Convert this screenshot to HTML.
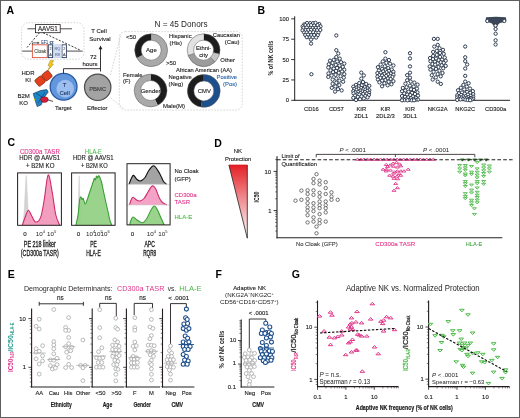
<!DOCTYPE html>
<html><head><meta charset="utf-8"><style>
html,body{margin:0;padding:0;background:#fff;}
body{width:520px;height:418px;overflow:hidden;font-family:"Liberation Sans",sans-serif;}
svg{display:block;}
</style></head><body>
<svg width="520" height="418" viewBox="0 0 520 418" font-family="'Liberation Sans', sans-serif">
<rect x="0" y="0" width="520" height="418" fill="#fff"/>
<defs><filter id="soft" filterUnits="userSpaceOnUse" x="0" y="0" width="520" height="418"><feGaussianBlur stdDeviation="0.3"/></filter></defs>
<g filter="url(#soft)">
<text x="6.50" y="13.90" font-size="10.5" fill="#000" font-weight="bold">A</text>
<rect x="21.5" y="22.7" width="62.5" height="36.5" rx="7" fill="none" stroke="#cacaca" stroke-width="0.8" stroke-dasharray="1.6,1.4"/>
<line x1="27.50" y1="28.80" x2="72.00" y2="28.80" stroke="#231f20" stroke-width="0.8"/>
<rect x="35.6" y="24.6" width="24.6" height="8.1" fill="#fff" stroke="#231f20" stroke-width="0.8"/>
<text x="47.90" y="31.07" font-size="6.3" fill="#231f20" stroke="#231f20" stroke-width="0.12" text-anchor="middle" textLength="20" lengthAdjust="spacingAndGlyphs">AAVS1</text>
<line x1="39.50" y1="32.70" x2="27.00" y2="47.50" stroke="#231f20" stroke-width="0.9" stroke-dasharray="2,1.5"/>
<line x1="43.00" y1="32.70" x2="81.00" y2="50.50" stroke="#231f20" stroke-width="0.9" stroke-dasharray="2,1.5"/>
<line x1="22.20" y1="51.10" x2="82.70" y2="51.10" stroke="#231f20" stroke-width="0.8"/>
<rect x="32.4" y="44.8" width="14.9" height="12.8" fill="#fff" stroke="#e2553f" stroke-width="0.9"/>
<text x="40.20" y="53.13" font-size="4.8" fill="#4d5a4d" stroke="#4d5a4d" stroke-width="0.12" text-anchor="middle" textLength="12" lengthAdjust="spacingAndGlyphs">Cloak</text>
<rect x="48.3" y="44.8" width="4.30" height="12.8" fill="#fff" stroke="#2f3f5f" stroke-width="0.9"/>
<text x="50.45" y="49.77" font-size="3.8" fill="#555" stroke="#555" stroke-width="0.12" text-anchor="middle">2</text>
<text x="50.45" y="55.67" font-size="3.8" fill="#555" stroke="#555" stroke-width="0.12" text-anchor="middle">A</text>
<rect x="62.0" y="44.8" width="4.40" height="12.8" fill="#fff" stroke="#2f3f5f" stroke-width="0.9"/>
<text x="64.20" y="49.77" font-size="3.8" fill="#555" stroke="#555" stroke-width="0.12" text-anchor="middle">2</text>
<text x="64.20" y="55.67" font-size="3.8" fill="#555" stroke="#555" stroke-width="0.12" text-anchor="middle">A</text>
<rect x="53.3" y="44.8" width="8.1" height="12.8" fill="#d5e0f2" stroke="#b9c8e4" stroke-width="0.6"/>
<text x="57.35" y="49.97" font-size="3.8" fill="#6a7fa8" stroke="#6a7fa8" stroke-width="0.12" text-anchor="middle">RQ</text>
<text x="57.35" y="55.67" font-size="3.8" fill="#6a7fa8" stroke="#6a7fa8" stroke-width="0.12" text-anchor="middle">R8</text>
<path d="M32.4,44.8 V42.9 H38" fill="none" stroke="#231f20" stroke-width="0.7"/>
<path d="M37.6,41.7 L39.6,42.9 L37.6,44.1 Z" fill="#231f20"/>
<text x="41.20" y="43.70" font-size="6.2" fill="#2d4e7a" stroke="#2d4e7a" stroke-width="0.12" textLength="7.0" lengthAdjust="spacingAndGlyphs">EF1</text>
<text x="49.60" y="43.80" font-size="5.4" fill="#2d4e7a" stroke="#2d4e7a" stroke-width="0.12" textLength="4.2" lengthAdjust="spacingAndGlyphs">α</text>
<path d="M50.2,60.6 L53.8,60.6 L51.6,64.2 L53.4,64.2 L48.0,70.4 L49.8,65.6 L48.0,65.6 Z" fill="#f6c91a" stroke="#8a6d00" stroke-width="0.4"/>
<text x="28.00" y="74.76" font-size="6.0" fill="#222" stroke="#222" stroke-width="0.12" text-anchor="middle">HDR</text>
<text x="28.00" y="82.16" font-size="6.0" fill="#222" stroke="#222" stroke-width="0.12" text-anchor="middle">KI</text>
<text x="23.70" y="97.76" font-size="6.0" fill="#222" stroke="#222" stroke-width="0.12" text-anchor="middle">B2M</text>
<text x="23.70" y="104.66" font-size="6.0" fill="#222" stroke="#222" stroke-width="0.12" text-anchor="middle">KO</text>
<g transform="translate(43.5,78.4) rotate(-38)"><rect x="-8.6" y="-4.0" width="8.4" height="8.0" rx="1.6" fill="#e5401e" stroke="#6b1808" stroke-width="0.6"/><rect x="0.2" y="-4.0" width="8.4" height="8.0" rx="1.6" fill="#e5401e" stroke="#6b1808" stroke-width="0.6"/></g>
<path d="M33.2,93.6 L40.5,90.6 L46.8,89.6 L48.2,92.0 L44.5,97.0 L41.2,104.8 L37.2,106.6 L35.4,101.2 Z" fill="#1f86c8" stroke="#0f2a4a" stroke-width="0.6"/>
<path d="M36,93.2 L44,98.4 M38,103 L45,92" stroke="#0f2a4a" stroke-width="0.5"/>
<ellipse cx="44.4" cy="99.6" rx="3.8" ry="2.8" fill="#d61f3a" stroke="#5a0a14" stroke-width="0.5"/>
<line x1="47.60" y1="99.80" x2="53.00" y2="101.40" stroke="#3a1a1a" stroke-width="0.8"/>
<circle cx="34.60" cy="99.60" r="0.90" fill="#d8d820" stroke="none" stroke-width="0.8"/>
<circle cx="63.60" cy="86.80" r="13.40" fill="#6397dd" stroke="#2a5a9e" stroke-width="1.3"/>
<circle cx="65.20" cy="88.60" r="8.80" fill="#9cbff0" stroke="none" stroke-width="0.8"/>
<text x="64.60" y="87.36" font-size="6.0" fill="#1e3a66" stroke="#1e3a66" stroke-width="0.12" text-anchor="middle">T</text>
<text x="64.60" y="94.76" font-size="6.0" fill="#1e3a66" stroke="#1e3a66" stroke-width="0.12" text-anchor="middle">Cell</text>
<text x="63.40" y="109.96" font-size="6.0" fill="#222" stroke="#222" stroke-width="0.12" text-anchor="middle">Target</text>
<path d="M63.5,73.4 V68.7 H100.5" fill="none" stroke="#231f20" stroke-width="0.9"/>
<line x1="100.50" y1="71.50" x2="100.50" y2="48.50" stroke="#231f20" stroke-width="0.9"/>
<path d="M98.6,49.2 L100.5,45.6 L102.4,49.2 Z" fill="#231f20"/>
<text x="93.30" y="59.16" font-size="6.0" fill="#222" stroke="#222" stroke-width="0.12" text-anchor="middle">72</text>
<text x="90.00" y="66.46" font-size="6.0" fill="#222" stroke="#222" stroke-width="0.12" text-anchor="middle">hours</text>
<text x="99.00" y="32.96" font-size="6.0" fill="#222" stroke="#222" stroke-width="0.12" text-anchor="middle">T Cell</text>
<text x="100.00" y="41.26" font-size="6.0" fill="#222" stroke="#222" stroke-width="0.12" text-anchor="middle">Survival</text>
<circle cx="97.70" cy="87.30" r="13.20" fill="#a3a3a3" stroke="#4d4d4d" stroke-width="1.2"/>
<text x="97.70" y="91.32" font-size="5.9" fill="#3c3c3c" stroke="#3c3c3c" stroke-width="0.12" text-anchor="middle">PBMC</text>
<text x="97.20" y="110.06" font-size="6.0" fill="#222" stroke="#222" stroke-width="0.12" text-anchor="middle">Effector</text>
<line x1="110.50" y1="75.00" x2="120.50" y2="36.00" stroke="#cacaca" stroke-width="0.8" stroke-dasharray="1.6,1.4"/>
<line x1="110.50" y1="98.00" x2="124.00" y2="108.60" stroke="#cacaca" stroke-width="0.8" stroke-dasharray="1.6,1.4"/>
<rect x="119.3" y="31.6" width="122.9" height="78.4" rx="6" fill="none" stroke="#cacaca" stroke-width="0.8" stroke-dasharray="1.6,1.4"/>
<text x="181.00" y="26.95" font-size="8.2" fill="#231f20" text-anchor="middle">N = 45 Donors</text>
<path d="M151.20,37.00 A13.2,13.2 0 1 1 139.55,56.40" fill="none" stroke="#a9a9a9" stroke-width="6.40"/>
<path d="M139.55,56.40 A13.2,13.2 0 0 1 151.20,37.00" fill="none" stroke="#1e1e1e" stroke-width="6.40"/>
<circle cx="151.20" cy="50.20" r="16.40" fill="none" stroke="#555" stroke-width="0.5"/>
<circle cx="151.20" cy="50.20" r="10.00" fill="none" stroke="#555" stroke-width="0.5"/>
<text x="151.40" y="52.36" font-size="6.0" fill="#222" stroke="#222" stroke-width="0.12" text-anchor="middle">Age</text>
<text x="131.00" y="38.86" font-size="6.0" fill="#222" stroke="#222" stroke-width="0.12" text-anchor="middle">&lt;50</text>
<text x="171.00" y="64.86" font-size="6.0" fill="#222" stroke="#222" stroke-width="0.12" text-anchor="middle">&gt;50</text>
<path d="M203.60,37.00 A13.2,13.2 0 0 1 216.46,53.17" fill="none" stroke="#1e1e1e" stroke-width="6.40"/>
<path d="M216.46,53.17 A13.2,13.2 0 0 1 212.77,59.70" fill="none" stroke="#c6c6c6" stroke-width="6.40"/>
<path d="M212.77,59.70 A13.2,13.2 0 0 1 191.12,54.50" fill="none" stroke="#9c9c9c" stroke-width="6.40"/>
<path d="M191.12,54.50 A13.2,13.2 0 0 1 203.60,37.00" fill="none" stroke="#e2e2e2" stroke-width="6.40"/>
<line x1="213.34" y1="52.45" x2="219.58" y2="53.89" stroke="#444" stroke-width="0.5"/>
<line x1="210.55" y1="57.39" x2="214.99" y2="62.00" stroke="#444" stroke-width="0.5"/>
<line x1="194.14" y1="53.46" x2="188.09" y2="55.54" stroke="#444" stroke-width="0.5"/>
<circle cx="203.60" cy="50.20" r="16.40" fill="none" stroke="#555" stroke-width="0.5"/>
<circle cx="203.60" cy="50.20" r="10.00" fill="none" stroke="#555" stroke-width="0.5"/>
<text x="203.60" y="50.22" font-size="5.9" fill="#222" stroke="#222" stroke-width="0.12" text-anchor="middle">Ethni-</text>
<text x="203.60" y="57.22" font-size="5.9" fill="#222" stroke="#222" stroke-width="0.12" text-anchor="middle">city</text>
<text x="169.00" y="38.00" font-size="5.9" fill="#222" stroke="#222" stroke-width="0.12">Hispanic</text>
<text x="169.60" y="45.10" font-size="5.9" fill="#222" stroke="#222" stroke-width="0.12">(His)</text>
<text x="212.80" y="36.80" font-size="5.9" fill="#222" stroke="#222" stroke-width="0.12" textLength="27.2" lengthAdjust="spacingAndGlyphs">Caucasian</text>
<text x="224.70" y="43.90" font-size="5.9" fill="#222" stroke="#222" stroke-width="0.12">(Cau)</text>
<text x="220.30" y="61.60" font-size="5.9" fill="#222" stroke="#222" stroke-width="0.12">Other</text>
<text x="176.00" y="72.40" font-size="5.9" fill="#222" stroke="#222" stroke-width="0.12" textLength="56" lengthAdjust="spacingAndGlyphs">African American (AA)</text>
<path d="M150.60,77.30 A13.2,13.2 0 0 1 156.39,102.36" fill="none" stroke="#1e1e1e" stroke-width="6.40"/>
<path d="M156.39,102.36 A13.2,13.2 0 1 1 150.60,77.30" fill="none" stroke="#a9a9a9" stroke-width="6.40"/>
<circle cx="150.60" cy="90.50" r="16.40" fill="none" stroke="#555" stroke-width="0.5"/>
<circle cx="150.60" cy="90.50" r="10.00" fill="none" stroke="#555" stroke-width="0.5"/>
<text x="150.60" y="92.92" font-size="5.9" fill="#222" stroke="#222" stroke-width="0.12" text-anchor="middle">Gender</text>
<text x="123.00" y="76.50" font-size="5.9" fill="#222" stroke="#222" stroke-width="0.12">Female</text>
<text x="123.00" y="83.40" font-size="5.9" fill="#222" stroke="#222" stroke-width="0.12">(F)</text>
<text x="163.00" y="107.90" font-size="5.9" fill="#222" stroke="#222" stroke-width="0.12" textLength="22" lengthAdjust="spacingAndGlyphs">Male(M)</text>
<path d="M203.80,77.70 A13.2,13.2 0 1 1 201.51,103.90" fill="none" stroke="#1d4f8c" stroke-width="6.40"/>
<path d="M201.51,103.90 A13.2,13.2 0 0 1 203.80,77.70" fill="none" stroke="#1e1e1e" stroke-width="6.40"/>
<circle cx="203.80" cy="90.90" r="16.40" fill="none" stroke="#555" stroke-width="0.5"/>
<circle cx="203.80" cy="90.90" r="10.00" fill="none" stroke="#555" stroke-width="0.5"/>
<text x="204.40" y="92.72" font-size="5.9" fill="#222" stroke="#222" stroke-width="0.12" text-anchor="middle">CMV</text>
<text x="168.60" y="79.30" font-size="5.9" fill="#222" stroke="#222" stroke-width="0.12">Negative</text>
<text x="168.60" y="85.70" font-size="5.9" fill="#222" stroke="#222" stroke-width="0.12">(Neg)</text>
<text x="216.50" y="79.30" font-size="5.9" fill="#2e67a8" stroke="#2e67a8" stroke-width="0.12">Positive</text>
<text x="223.00" y="85.70" font-size="5.9" fill="#2e67a8" stroke="#2e67a8" stroke-width="0.12">(Pos)</text>
<text x="257.40" y="13.80" font-size="10.5" fill="#000" font-weight="bold">B</text>
<line x1="294.70" y1="16.30" x2="294.70" y2="100.80" stroke="#231f20" stroke-width="1.0"/>
<line x1="294.20" y1="100.30" x2="510.00" y2="100.30" stroke="#231f20" stroke-width="1.0"/>
<line x1="291.20" y1="100.30" x2="294.70" y2="100.30" stroke="#231f20" stroke-width="0.9"/>
<text x="289.00" y="102.35" font-size="5.8" fill="#222" stroke="#222" stroke-width="0.12" text-anchor="end">0</text>
<line x1="291.20" y1="79.94" x2="294.70" y2="79.94" stroke="#231f20" stroke-width="0.9"/>
<text x="289.00" y="81.99" font-size="5.8" fill="#222" stroke="#222" stroke-width="0.12" text-anchor="end">25</text>
<line x1="291.20" y1="59.57" x2="294.70" y2="59.57" stroke="#231f20" stroke-width="0.9"/>
<text x="289.00" y="61.62" font-size="5.8" fill="#222" stroke="#222" stroke-width="0.12" text-anchor="end">50</text>
<line x1="291.20" y1="39.21" x2="294.70" y2="39.21" stroke="#231f20" stroke-width="0.9"/>
<text x="289.00" y="41.26" font-size="5.8" fill="#222" stroke="#222" stroke-width="0.12" text-anchor="end">75</text>
<line x1="291.20" y1="18.85" x2="294.70" y2="18.85" stroke="#231f20" stroke-width="0.9"/>
<text x="289.00" y="20.90" font-size="5.8" fill="#222" stroke="#222" stroke-width="0.12" text-anchor="end">100</text>
<text transform="translate(273.0,58.2) rotate(-90)" font-size="8" font-weight="bold" fill="#231f20" text-anchor="middle" textLength="34.8" lengthAdjust="spacingAndGlyphs">% of NK cells</text>
<text x="311.40" y="110.99" font-size="5.8" fill="#222" stroke="#222" stroke-width="0.12" text-anchor="middle">CD16</text>
<text x="336.30" y="110.99" font-size="5.8" fill="#222" stroke="#222" stroke-width="0.12" text-anchor="middle">CD57</text>
<text x="361.30" y="110.99" font-size="5.8" fill="#222" stroke="#222" stroke-width="0.12" text-anchor="middle">KIR</text>
<text x="361.30" y="118.39" font-size="5.8" fill="#222" stroke="#222" stroke-width="0.12" text-anchor="middle">2DL1</text>
<text x="385.40" y="110.99" font-size="5.8" fill="#222" stroke="#222" stroke-width="0.12" text-anchor="middle">KIR</text>
<text x="385.40" y="118.39" font-size="5.8" fill="#222" stroke="#222" stroke-width="0.12" text-anchor="middle">2DL2/3</text>
<text x="410.00" y="110.99" font-size="5.8" fill="#222" stroke="#222" stroke-width="0.12" text-anchor="middle">KIR</text>
<text x="410.00" y="118.39" font-size="5.8" fill="#222" stroke="#222" stroke-width="0.12" text-anchor="middle">3DL1</text>
<text x="437.70" y="110.99" font-size="5.8" fill="#222" stroke="#222" stroke-width="0.12" text-anchor="middle">NKG2A</text>
<text x="465.20" y="110.99" font-size="5.8" fill="#222" stroke="#222" stroke-width="0.12" text-anchor="middle">NKG2C</text>
<text x="495.60" y="110.99" font-size="5.8" fill="#222" stroke="#222" stroke-width="0.12" text-anchor="middle">CD300a</text>
<path d="M486.2,17.2 Q496,16.2 505.8,17.2 Q507.2,19.5 505.2,21.8 Q502,22.8 499.5,23.2 Q497.5,24.5 496.8,27.2 L494.2,27.2 Q493.4,24.5 491.5,23.2 Q489,22.8 486.8,21.8 Q484.8,19.5 486.2,17.2 Z" fill="#3a4658"/>
<g fill="#fff" stroke="#2e3c50" stroke-width="1.0"><circle cx="307.00" cy="23.05" r="1.65"/><circle cx="310.14" cy="23.17" r="1.65"/><circle cx="313.09" cy="23.15" r="1.65"/><circle cx="315.52" cy="22.88" r="1.65"/><circle cx="304.25" cy="24.39" r="1.65"/><circle cx="319.22" cy="24.07" r="1.65"/><circle cx="305.38" cy="25.15" r="1.65"/><circle cx="308.44" cy="25.34" r="1.65"/><circle cx="311.01" cy="25.13" r="1.65"/><circle cx="314.22" cy="25.55" r="1.65"/><circle cx="317.61" cy="25.10" r="1.65"/><circle cx="302.64" cy="26.38" r="1.65"/><circle cx="320.49" cy="26.38" r="1.65"/><circle cx="303.50" cy="27.92" r="1.65"/><circle cx="306.67" cy="27.53" r="1.65"/><circle cx="310.29" cy="27.92" r="1.65"/><circle cx="312.73" cy="27.98" r="1.65"/><circle cx="315.93" cy="27.81" r="1.65"/><circle cx="318.66" cy="27.96" r="1.65"/><circle cx="302.55" cy="30.38" r="1.65"/><circle cx="305.71" cy="29.98" r="1.65"/><circle cx="308.29" cy="29.90" r="1.65"/><circle cx="311.12" cy="29.84" r="1.65"/><circle cx="314.24" cy="30.16" r="1.65"/><circle cx="317.00" cy="30.21" r="1.65"/><circle cx="320.27" cy="29.99" r="1.65"/><circle cx="304.15" cy="32.49" r="1.65"/><circle cx="306.75" cy="32.49" r="1.65"/><circle cx="310.06" cy="32.23" r="1.65"/><circle cx="313.28" cy="32.21" r="1.65"/><circle cx="316.10" cy="32.71" r="1.65"/><circle cx="318.51" cy="32.67" r="1.65"/><circle cx="305.29" cy="34.95" r="1.65"/><circle cx="308.01" cy="34.63" r="1.65"/><circle cx="311.14" cy="35.17" r="1.65"/><circle cx="314.16" cy="35.05" r="1.65"/><circle cx="317.74" cy="35.17" r="1.65"/><circle cx="306.78" cy="37.21" r="1.65"/><circle cx="309.92" cy="37.47" r="1.65"/><circle cx="312.59" cy="37.45" r="1.65"/><circle cx="316.14" cy="37.52" r="1.65"/><circle cx="311.03" cy="39.57" r="1.65"/><circle cx="311.07" cy="43.60" r="1.65"/><circle cx="311.40" cy="74.24" r="1.65"/><circle cx="336.30" cy="35.47" r="1.65"/><circle cx="336.30" cy="50.21" r="1.65"/><circle cx="338.26" cy="53.47" r="1.65"/><circle cx="336.30" cy="57.09" r="1.65"/><circle cx="339.77" cy="58.64" r="1.65"/><circle cx="333.72" cy="59.89" r="1.65"/><circle cx="330.00" cy="60.66" r="1.65"/><circle cx="337.19" cy="61.44" r="1.65"/><circle cx="341.08" cy="62.21" r="1.65"/><circle cx="332.55" cy="62.96" r="1.65"/><circle cx="344.30" cy="63.61" r="1.65"/><circle cx="328.77" cy="64.26" r="1.65"/><circle cx="335.80" cy="64.90" r="1.65"/><circle cx="339.55" cy="65.55" r="1.65"/><circle cx="331.55" cy="66.19" r="1.65"/><circle cx="342.80" cy="66.84" r="1.65"/><circle cx="328.30" cy="67.43" r="1.65"/><circle cx="337.05" cy="68.01" r="1.65"/><circle cx="333.80" cy="68.59" r="1.65"/><circle cx="340.30" cy="69.17" r="1.65"/><circle cx="344.30" cy="69.76" r="1.65"/><circle cx="330.55" cy="70.34" r="1.65"/><circle cx="336.05" cy="70.92" r="1.65"/><circle cx="342.05" cy="71.50" r="1.65"/><circle cx="333.05" cy="72.13" r="1.65"/><circle cx="338.80" cy="72.81" r="1.65"/><circle cx="328.43" cy="73.49" r="1.65"/><circle cx="344.30" cy="74.17" r="1.65"/><circle cx="335.55" cy="74.85" r="1.65"/><circle cx="331.55" cy="75.53" r="1.65"/><circle cx="340.51" cy="76.20" r="1.65"/><circle cx="328.30" cy="76.88" r="1.65"/><circle cx="343.80" cy="77.60" r="1.65"/><circle cx="336.30" cy="78.63" r="1.65"/><circle cx="332.64" cy="79.67" r="1.65"/><circle cx="339.49" cy="80.70" r="1.65"/><circle cx="343.14" cy="81.73" r="1.65"/><circle cx="336.30" cy="82.77" r="1.65"/><circle cx="332.64" cy="83.80" r="1.65"/><circle cx="339.30" cy="85.10" r="1.65"/><circle cx="335.37" cy="86.45" r="1.65"/><circle cx="331.82" cy="87.81" r="1.65"/><circle cx="338.03" cy="89.17" r="1.65"/><circle cx="341.62" cy="90.41" r="1.65"/><circle cx="335.09" cy="91.57" r="1.65"/><circle cx="361.30" cy="72.61" r="1.65"/><circle cx="363.81" cy="75.46" r="1.65"/><circle cx="361.30" cy="78.63" r="1.65"/><circle cx="362.96" cy="82.05" r="1.65"/><circle cx="359.29" cy="83.02" r="1.65"/><circle cx="366.23" cy="83.99" r="1.65"/><circle cx="355.98" cy="84.89" r="1.65"/><circle cx="361.80" cy="85.34" r="1.65"/><circle cx="369.30" cy="85.80" r="1.65"/><circle cx="358.80" cy="86.26" r="1.65"/><circle cx="353.30" cy="86.71" r="1.65"/><circle cx="364.80" cy="87.17" r="1.65"/><circle cx="356.30" cy="87.63" r="1.65"/><circle cx="361.05" cy="88.08" r="1.65"/><circle cx="367.55" cy="88.39" r="1.65"/><circle cx="358.55" cy="88.70" r="1.65"/><circle cx="354.30" cy="89.01" r="1.65"/><circle cx="363.30" cy="89.32" r="1.65"/><circle cx="365.55" cy="89.63" r="1.65"/><circle cx="356.55" cy="89.94" r="1.65"/><circle cx="369.30" cy="90.25" r="1.65"/><circle cx="360.30" cy="90.56" r="1.65"/><circle cx="367.30" cy="90.88" r="1.65"/><circle cx="353.30" cy="91.19" r="1.65"/><circle cx="362.55" cy="91.50" r="1.65"/><circle cx="358.05" cy="91.81" r="1.65"/><circle cx="365.05" cy="92.12" r="1.65"/><circle cx="355.55" cy="92.43" r="1.65"/><circle cx="369.05" cy="92.74" r="1.65"/><circle cx="360.55" cy="93.05" r="1.65"/><circle cx="353.55" cy="93.36" r="1.65"/><circle cx="366.80" cy="93.67" r="1.65"/><circle cx="363.30" cy="93.98" r="1.65"/><circle cx="357.30" cy="94.29" r="1.65"/><circle cx="359.30" cy="94.60" r="1.65"/><circle cx="368.80" cy="95.05" r="1.65"/><circle cx="355.05" cy="95.51" r="1.65"/><circle cx="365.30" cy="95.97" r="1.65"/><circle cx="361.55" cy="96.42" r="1.65"/><circle cx="357.80" cy="96.88" r="1.65"/><circle cx="367.55" cy="97.34" r="1.65"/><circle cx="353.30" cy="97.79" r="1.65"/><circle cx="363.80" cy="98.48" r="1.65"/><circle cx="360.05" cy="99.21" r="1.65"/><circle cx="356.05" cy="99.94" r="1.65"/><circle cx="385.40" cy="52.24" r="1.65"/><circle cx="385.40" cy="58.64" r="1.65"/><circle cx="388.94" cy="60.03" r="1.65"/><circle cx="382.81" cy="61.42" r="1.65"/><circle cx="386.34" cy="62.81" r="1.65"/><circle cx="390.04" cy="63.69" r="1.65"/><circle cx="380.67" cy="64.56" r="1.65"/><circle cx="393.40" cy="65.43" r="1.65"/><circle cx="384.85" cy="66.30" r="1.65"/><circle cx="377.91" cy="67.17" r="1.65"/><circle cx="388.23" cy="68.04" r="1.65"/><circle cx="382.09" cy="68.91" r="1.65"/><circle cx="391.71" cy="69.57" r="1.65"/><circle cx="385.40" cy="70.02" r="1.65"/><circle cx="378.90" cy="70.46" r="1.65"/><circle cx="388.90" cy="70.90" r="1.65"/><circle cx="383.15" cy="71.35" r="1.65"/><circle cx="393.40" cy="71.79" r="1.65"/><circle cx="386.65" cy="72.24" r="1.65"/><circle cx="380.65" cy="72.68" r="1.65"/><circle cx="377.40" cy="73.13" r="1.65"/><circle cx="390.65" cy="73.57" r="1.65"/><circle cx="384.40" cy="74.01" r="1.65"/><circle cx="388.15" cy="74.42" r="1.65"/><circle cx="393.40" cy="74.79" r="1.65"/><circle cx="379.40" cy="75.16" r="1.65"/><circle cx="382.15" cy="75.53" r="1.65"/><circle cx="386.15" cy="75.90" r="1.65"/><circle cx="390.15" cy="76.27" r="1.65"/><circle cx="377.40" cy="76.64" r="1.65"/><circle cx="392.40" cy="77.01" r="1.65"/><circle cx="383.90" cy="77.38" r="1.65"/><circle cx="380.40" cy="77.88" r="1.65"/><circle cx="387.90" cy="78.44" r="1.65"/><circle cx="390.65" cy="78.99" r="1.65"/><circle cx="377.90" cy="79.55" r="1.65"/><circle cx="385.40" cy="80.10" r="1.65"/><circle cx="382.15" cy="80.66" r="1.65"/><circle cx="393.40" cy="81.21" r="1.65"/><circle cx="388.65" cy="81.77" r="1.65"/><circle cx="379.40" cy="82.33" r="1.65"/><circle cx="384.40" cy="83.28" r="1.65"/><circle cx="391.40" cy="84.28" r="1.65"/><circle cx="387.65" cy="85.28" r="1.65"/><circle cx="382.07" cy="86.28" r="1.65"/><circle cx="410.00" cy="53.22" r="1.65"/><circle cx="410.00" cy="58.43" r="1.65"/><circle cx="410.00" cy="66.42" r="1.65"/><circle cx="410.00" cy="72.65" r="1.65"/><circle cx="407.17" cy="75.18" r="1.65"/><circle cx="410.00" cy="77.71" r="1.65"/><circle cx="407.17" cy="80.25" r="1.65"/><circle cx="410.73" cy="81.57" r="1.65"/><circle cx="414.38" cy="82.60" r="1.65"/><circle cx="405.43" cy="83.63" r="1.65"/><circle cx="417.58" cy="84.66" r="1.65"/><circle cx="410.00" cy="85.68" r="1.65"/><circle cx="413.68" cy="86.62" r="1.65"/><circle cx="406.55" cy="87.28" r="1.65"/><circle cx="402.81" cy="87.94" r="1.65"/><circle cx="416.93" cy="88.60" r="1.65"/><circle cx="411.00" cy="89.26" r="1.65"/><circle cx="414.00" cy="89.92" r="1.65"/><circle cx="405.25" cy="90.58" r="1.65"/><circle cx="402.00" cy="91.24" r="1.65"/><circle cx="408.50" cy="91.81" r="1.65"/><circle cx="417.48" cy="92.36" r="1.65"/><circle cx="412.00" cy="92.91" r="1.65"/><circle cx="404.25" cy="93.46" r="1.65"/><circle cx="415.00" cy="94.01" r="1.65"/><circle cx="407.25" cy="94.56" r="1.65"/><circle cx="410.25" cy="95.11" r="1.65"/><circle cx="418.00" cy="95.61" r="1.65"/><circle cx="402.00" cy="96.05" r="1.65"/><circle cx="413.00" cy="96.49" r="1.65"/><circle cx="405.00" cy="96.93" r="1.65"/><circle cx="408.25" cy="97.37" r="1.65"/><circle cx="415.75" cy="97.81" r="1.65"/><circle cx="411.00" cy="98.25" r="1.65"/><circle cx="402.75" cy="98.69" r="1.65"/><circle cx="413.50" cy="98.98" r="1.65"/><circle cx="406.25" cy="99.27" r="1.65"/><circle cx="418.00" cy="99.57" r="1.65"/><circle cx="409.00" cy="99.86" r="1.65"/><circle cx="415.50" cy="99.89" r="1.65"/><circle cx="404.25" cy="100.15" r="1.65"/><circle cx="411.75" cy="100.30" r="1.65"/><circle cx="402.00" cy="100.30" r="1.65"/><circle cx="407.50" cy="100.30" r="1.65"/><circle cx="414.00" cy="100.30" r="1.65"/><circle cx="437.70" cy="38.89" r="1.65"/><circle cx="433.90" cy="38.89" r="1.65"/><circle cx="437.70" cy="44.93" r="1.65"/><circle cx="434.28" cy="46.59" r="1.65"/><circle cx="439.56" cy="48.24" r="1.65"/><circle cx="443.00" cy="49.86" r="1.65"/><circle cx="436.81" cy="50.86" r="1.65"/><circle cx="433.14" cy="51.87" r="1.65"/><circle cx="440.03" cy="52.87" r="1.65"/><circle cx="443.70" cy="53.87" r="1.65"/><circle cx="436.81" cy="54.88" r="1.65"/><circle cx="433.14" cy="55.88" r="1.65"/><circle cx="440.03" cy="56.88" r="1.65"/><circle cx="444.73" cy="57.53" r="1.65"/><circle cx="430.03" cy="58.06" r="1.65"/><circle cx="436.01" cy="58.59" r="1.65"/><circle cx="432.95" cy="59.12" r="1.65"/><circle cx="441.95" cy="59.65" r="1.65"/><circle cx="438.70" cy="60.18" r="1.65"/><circle cx="445.70" cy="60.71" r="1.65"/><circle cx="430.45" cy="61.24" r="1.65"/><circle cx="434.95" cy="61.77" r="1.65"/><circle cx="440.70" cy="62.30" r="1.65"/><circle cx="443.70" cy="62.83" r="1.65"/><circle cx="437.70" cy="63.44" r="1.65"/><circle cx="432.45" cy="64.05" r="1.65"/><circle cx="435.20" cy="64.65" r="1.65"/><circle cx="441.70" cy="65.26" r="1.65"/><circle cx="445.70" cy="65.86" r="1.65"/><circle cx="429.70" cy="66.47" r="1.65"/><circle cx="438.45" cy="67.08" r="1.65"/><circle cx="433.20" cy="67.68" r="1.65"/><circle cx="443.20" cy="68.29" r="1.65"/><circle cx="435.95" cy="68.89" r="1.65"/><circle cx="430.45" cy="69.63" r="1.65"/><circle cx="439.45" cy="70.74" r="1.65"/><circle cx="433.57" cy="71.86" r="1.65"/><circle cx="442.53" cy="72.97" r="1.65"/><circle cx="437.64" cy="74.08" r="1.65"/><circle cx="431.76" cy="75.20" r="1.65"/><circle cx="440.72" cy="76.31" r="1.65"/><circle cx="435.84" cy="77.43" r="1.65"/><circle cx="432.68" cy="79.54" r="1.65"/><circle cx="437.70" cy="81.72" r="1.65"/><circle cx="440.81" cy="83.90" r="1.65"/><circle cx="465.20" cy="46.54" r="1.65"/><circle cx="465.20" cy="57.29" r="1.65"/><circle cx="465.20" cy="61.20" r="1.65"/><circle cx="467.16" cy="64.46" r="1.65"/><circle cx="465.20" cy="68.53" r="1.65"/><circle cx="465.20" cy="75.86" r="1.65"/><circle cx="465.20" cy="81.59" r="1.65"/><circle cx="468.61" cy="83.26" r="1.65"/><circle cx="463.39" cy="84.93" r="1.65"/><circle cx="466.80" cy="86.60" r="1.65"/><circle cx="460.87" cy="87.77" r="1.65"/><circle cx="470.03" cy="88.60" r="1.65"/><circle cx="464.28" cy="89.44" r="1.65"/><circle cx="458.01" cy="90.28" r="1.65"/><circle cx="472.89" cy="91.11" r="1.65"/><circle cx="467.14" cy="91.95" r="1.65"/><circle cx="461.98" cy="92.47" r="1.65"/><circle cx="470.20" cy="92.89" r="1.65"/><circle cx="458.95" cy="93.30" r="1.65"/><circle cx="464.70" cy="93.72" r="1.65"/><circle cx="473.20" cy="94.14" r="1.65"/><circle cx="467.95" cy="94.56" r="1.65"/><circle cx="461.20" cy="94.97" r="1.65"/><circle cx="457.20" cy="95.39" r="1.65"/><circle cx="470.70" cy="95.81" r="1.65"/><circle cx="465.70" cy="96.23" r="1.65"/><circle cx="463.20" cy="96.48" r="1.65"/><circle cx="473.20" cy="96.73" r="1.65"/><circle cx="459.45" cy="96.98" r="1.65"/><circle cx="468.20" cy="97.23" r="1.65"/><circle cx="457.20" cy="97.48" r="1.65"/><circle cx="461.45" cy="97.73" r="1.65"/><circle cx="471.20" cy="97.98" r="1.65"/><circle cx="464.70" cy="98.23" r="1.65"/><circle cx="466.70" cy="98.48" r="1.65"/><circle cx="473.20" cy="98.71" r="1.65"/><circle cx="458.70" cy="98.88" r="1.65"/><circle cx="469.20" cy="99.05" r="1.65"/><circle cx="462.95" cy="99.21" r="1.65"/><circle cx="460.45" cy="99.38" r="1.65"/><circle cx="471.70" cy="99.55" r="1.65"/><circle cx="465.45" cy="99.72" r="1.65"/><circle cx="457.20" cy="99.88" r="1.65"/><circle cx="467.70" cy="100.05" r="1.65"/><circle cx="470.20" cy="100.22" r="1.65"/><circle cx="487.30" cy="21.00" r="1.65"/><circle cx="504.30" cy="21.00" r="1.65"/><circle cx="495.50" cy="25.60" r="1.65"/><circle cx="495.60" cy="29.03" r="1.65"/><circle cx="495.60" cy="33.67" r="1.65"/><circle cx="495.60" cy="40.27" r="1.65"/><circle cx="495.60" cy="44.51" r="1.65"/></g>
<text x="7.50" y="146.00" font-size="10.5" fill="#000" font-weight="bold">C</text>
<text x="39.90" y="153.70" font-size="6.6" fill="#e0368a" stroke="#e0368a" stroke-width="0.12" text-anchor="middle" textLength="40.0" lengthAdjust="spacingAndGlyphs">CD300a TASR</text>
<text x="39.75" y="160.40" font-size="6.6" fill="#222" stroke="#222" stroke-width="0.12" text-anchor="middle" textLength="40.9" lengthAdjust="spacingAndGlyphs">HDR @ AAVS1</text>
<text x="40.20" y="167.60" font-size="6.6" fill="#222" stroke="#222" stroke-width="0.12" text-anchor="middle" textLength="28.4" lengthAdjust="spacingAndGlyphs">+ B2M KO</text>
<text x="93.50" y="153.50" font-size="6.6" fill="#4cb848" stroke="#4cb848" stroke-width="0.12" text-anchor="middle" textLength="16.8" lengthAdjust="spacingAndGlyphs">HLA-E</text>
<text x="93.30" y="160.40" font-size="6.6" fill="#222" stroke="#222" stroke-width="0.12" text-anchor="middle" textLength="40.6" lengthAdjust="spacingAndGlyphs">HDR @ AAVS1</text>
<text x="94.30" y="167.60" font-size="6.6" fill="#222" stroke="#222" stroke-width="0.12" text-anchor="middle" textLength="26.7" lengthAdjust="spacingAndGlyphs">+ B2M KO</text>
<path d="M22.60,225.30 C22.83,223.30 23.58,218.63 24.00,213.30 C24.42,207.97 24.73,199.60 25.10,193.30 C25.47,187.00 25.83,175.50 26.20,175.50 C26.57,175.50 26.93,187.00 27.30,193.30 C27.67,199.60 27.98,207.97 28.40,213.30 C28.82,218.63 29.57,223.30 29.80,225.30 L29.80,225.3 L22.60,225.3 Z" fill="#d2d2d2" fill-opacity="1" stroke="none"/>
<path d="M22.60,225.30 C22.83,223.30 23.58,218.63 24.00,213.30 C24.42,207.97 24.73,199.60 25.10,193.30 C25.47,187.00 25.83,175.50 26.20,175.50 C26.57,175.50 26.93,187.00 27.30,193.30 C27.67,199.60 27.98,207.97 28.40,213.30 C28.82,218.63 29.57,223.30 29.80,225.30" fill="none" stroke="#cfcfcf" stroke-width="0.5" stroke-linejoin="round"/>
<path d="M22.30,225.30 C22.83,223.80 24.48,218.82 25.50,216.30 C26.52,213.78 27.40,210.33 28.40,210.20 C29.40,210.07 30.30,213.53 31.50,215.50 C32.70,217.47 34.08,221.68 35.60,222.00 C37.12,222.32 39.17,221.07 40.60,217.40 C42.03,213.73 42.95,207.07 44.20,200.00 C45.45,192.93 46.78,176.42 48.10,175.00 C49.42,173.58 50.83,184.92 52.10,191.50 C53.37,198.08 54.43,208.87 55.70,214.50 C56.97,220.13 59.03,223.50 59.70,225.30 L59.70,225.3 L22.30,225.3 Z" fill="#f29ebf" fill-opacity="1" stroke="none"/>
<path d="M22.30,225.30 C22.83,223.80 24.48,218.82 25.50,216.30 C26.52,213.78 27.40,210.33 28.40,210.20 C29.40,210.07 30.30,213.53 31.50,215.50 C32.70,217.47 34.08,221.68 35.60,222.00 C37.12,222.32 39.17,221.07 40.60,217.40 C42.03,213.73 42.95,207.07 44.20,200.00 C45.45,192.93 46.78,176.42 48.10,175.00 C49.42,173.58 50.83,184.92 52.10,191.50 C53.37,198.08 54.43,208.87 55.70,214.50 C56.97,220.13 59.03,223.50 59.70,225.30" fill="none" stroke="#cf2a6b" stroke-width="1.1" stroke-linejoin="round"/>
<rect x="17.6" y="172.9" width="43.8" height="52.40" fill="none" stroke="#231f20" stroke-width="1"/>
<path d="M77.90,225.30 C78.03,219.75 78.48,200.27 78.70,192.00 C78.92,183.73 79.03,175.70 79.20,175.70 C79.37,175.70 79.48,183.73 79.70,192.00 C79.92,200.27 80.37,219.75 80.50,225.30 L80.50,225.3 L77.90,225.3 Z" fill="#cfcfcf" fill-opacity="1" stroke="none"/>
<path d="M77.90,225.30 C78.03,219.75 78.48,200.27 78.70,192.00 C78.92,183.73 79.03,175.70 79.20,175.70 C79.37,175.70 79.48,183.73 79.70,192.00 C79.92,200.27 80.37,219.75 80.50,225.30" fill="none" stroke="#cfcfcf" stroke-width="0.5" stroke-linejoin="round"/>
<path d="M75.90,225.30 C76.28,223.42 77.58,218.22 78.20,214.00 C78.82,209.78 79.15,202.87 79.60,200.00 C80.05,197.13 80.50,196.88 80.90,196.80 C81.30,196.72 81.62,199.22 82.00,199.50 C82.38,199.78 82.67,197.75 83.20,198.50 C83.73,199.25 84.48,203.92 85.20,204.00 C85.92,204.08 86.77,200.92 87.50,199.00 C88.23,197.08 88.93,194.50 89.60,192.50 C90.27,190.50 90.92,188.75 91.50,187.00 C92.08,185.25 92.62,183.42 93.10,182.00 C93.58,180.58 94.02,178.83 94.40,178.50 C94.78,178.17 95.05,180.38 95.40,180.00 C95.75,179.62 96.13,176.57 96.50,176.20 C96.87,175.83 97.22,177.90 97.60,177.80 C97.98,177.70 98.37,175.53 98.80,175.60 C99.23,175.67 99.73,177.05 100.20,178.20 C100.67,179.35 101.05,180.28 101.60,182.50 C102.15,184.72 102.77,188.08 103.50,191.50 C104.23,194.92 105.22,199.50 106.00,203.00 C106.78,206.50 107.58,209.73 108.20,212.50 C108.82,215.27 109.10,217.47 109.70,219.60 C110.30,221.73 111.45,224.35 111.80,225.30 L111.80,225.3 L75.90,225.3 Z" fill="#8fcf80" fill-opacity="0.9" stroke="none"/>
<path d="M75.90,225.30 C76.28,223.42 77.58,218.22 78.20,214.00 C78.82,209.78 79.15,202.87 79.60,200.00 C80.05,197.13 80.50,196.88 80.90,196.80 C81.30,196.72 81.62,199.22 82.00,199.50 C82.38,199.78 82.67,197.75 83.20,198.50 C83.73,199.25 84.48,203.92 85.20,204.00 C85.92,204.08 86.77,200.92 87.50,199.00 C88.23,197.08 88.93,194.50 89.60,192.50 C90.27,190.50 90.92,188.75 91.50,187.00 C92.08,185.25 92.62,183.42 93.10,182.00 C93.58,180.58 94.02,178.83 94.40,178.50 C94.78,178.17 95.05,180.38 95.40,180.00 C95.75,179.62 96.13,176.57 96.50,176.20 C96.87,175.83 97.22,177.90 97.60,177.80 C97.98,177.70 98.37,175.53 98.80,175.60 C99.23,175.67 99.73,177.05 100.20,178.20 C100.67,179.35 101.05,180.28 101.60,182.50 C102.15,184.72 102.77,188.08 103.50,191.50 C104.23,194.92 105.22,199.50 106.00,203.00 C106.78,206.50 107.58,209.73 108.20,212.50 C108.82,215.27 109.10,217.47 109.70,219.60 C110.30,221.73 111.45,224.35 111.80,225.30" fill="none" stroke="#3a9f36" stroke-width="1.1" stroke-linejoin="round"/>
<rect x="71.6" y="172.9" width="43.5" height="52.40" fill="none" stroke="#231f20" stroke-width="1"/>
<path d="M129.00,184.30 C129.38,183.33 130.55,179.98 131.30,178.50 C132.05,177.02 132.55,175.23 133.50,175.40 C134.45,175.57 135.78,178.58 137.00,179.50 C138.22,180.42 139.47,181.23 140.80,180.90 C142.13,180.57 143.62,179.32 145.00,177.50 C146.38,175.68 147.57,171.93 149.10,170.00 C150.63,168.07 152.38,165.20 154.20,165.90 C156.02,166.60 158.45,171.60 160.00,174.20 C161.55,176.80 162.38,179.82 163.50,181.50 C164.62,183.18 166.17,183.83 166.70,184.30 L166.70,184.3 L129.00,184.3 Z" fill="#a3a3a3" fill-opacity="1" stroke="none"/>
<path d="M129.00,184.30 C129.38,183.33 130.55,179.98 131.30,178.50 C132.05,177.02 132.55,175.23 133.50,175.40 C134.45,175.57 135.78,178.58 137.00,179.50 C138.22,180.42 139.47,181.23 140.80,180.90 C142.13,180.57 143.62,179.32 145.00,177.50 C146.38,175.68 147.57,171.93 149.10,170.00 C150.63,168.07 152.38,165.20 154.20,165.90 C156.02,166.60 158.45,171.60 160.00,174.20 C161.55,176.80 162.38,179.82 163.50,181.50 C164.62,183.18 166.17,183.83 166.70,184.30" fill="none" stroke="#111" stroke-width="1.1" stroke-linejoin="round"/>
<path d="M129.50,204.90 C129.80,204.00 130.68,200.78 131.30,199.50 C131.92,198.22 132.33,197.12 133.20,197.20 C134.07,197.28 135.38,199.37 136.50,200.00 C137.62,200.63 138.65,201.25 139.90,201.00 C141.15,200.75 142.65,200.00 144.00,198.50 C145.35,197.00 146.65,194.08 148.00,192.00 C149.35,189.92 150.85,186.58 152.10,186.00 C153.35,185.42 154.32,186.55 155.50,188.50 C156.68,190.45 158.03,195.37 159.20,197.70 C160.37,200.03 161.20,201.30 162.50,202.50 C163.80,203.70 166.25,204.50 167.00,204.90 L167.00,204.9 L129.50,204.9 Z" fill="#f4a2c5" fill-opacity="1" stroke="none"/>
<path d="M129.50,204.90 C129.80,204.00 130.68,200.78 131.30,199.50 C131.92,198.22 132.33,197.12 133.20,197.20 C134.07,197.28 135.38,199.37 136.50,200.00 C137.62,200.63 138.65,201.25 139.90,201.00 C141.15,200.75 142.65,200.00 144.00,198.50 C145.35,197.00 146.65,194.08 148.00,192.00 C149.35,189.92 150.85,186.58 152.10,186.00 C153.35,185.42 154.32,186.55 155.50,188.50 C156.68,190.45 158.03,195.37 159.20,197.70 C160.37,200.03 161.20,201.30 162.50,202.50 C163.80,203.70 166.25,204.50 167.00,204.90" fill="none" stroke="#cc2d6a" stroke-width="1.1" stroke-linejoin="round"/>
<path d="M129.50,224.90 C129.80,224.00 130.68,220.82 131.30,219.50 C131.92,218.18 132.25,216.92 133.20,217.00 C134.15,217.08 135.47,219.03 137.00,220.00 C138.53,220.97 140.82,222.97 142.40,222.80 C143.98,222.63 145.15,220.97 146.50,219.00 C147.85,217.03 149.22,213.17 150.50,211.00 C151.78,208.83 153.03,206.17 154.20,206.00 C155.37,205.83 156.38,208.03 157.50,210.00 C158.62,211.97 159.78,215.32 160.90,217.80 C162.02,220.28 163.65,223.72 164.20,224.90 L164.20,224.9 L129.50,224.9 Z" fill="#8fcf80" fill-opacity="0.9" stroke="none"/>
<path d="M129.50,224.90 C129.80,224.00 130.68,220.82 131.30,219.50 C131.92,218.18 132.25,216.92 133.20,217.00 C134.15,217.08 135.47,219.03 137.00,220.00 C138.53,220.97 140.82,222.97 142.40,222.80 C143.98,222.63 145.15,220.97 146.50,219.00 C147.85,217.03 149.22,213.17 150.50,211.00 C151.78,208.83 153.03,206.17 154.20,206.00 C155.37,205.83 156.38,208.03 157.50,210.00 C158.62,211.97 159.78,215.32 160.90,217.80 C162.02,220.28 163.65,223.72 164.20,224.90" fill="none" stroke="#3a9f36" stroke-width="1.1" stroke-linejoin="round"/>
<line x1="127.00" y1="184.30" x2="170.10" y2="184.30" stroke="#c8c8c8" stroke-width="0.7"/>
<line x1="127.00" y1="204.90" x2="170.10" y2="204.90" stroke="#c8c8c8" stroke-width="0.7"/>
<rect x="127.0" y="163.7" width="43.1" height="61.20" fill="none" stroke="#231f20" stroke-width="1"/>
<text x="174.50" y="172.90" font-size="6.0" fill="#222" stroke="#222" stroke-width="0.12" textLength="24.3" lengthAdjust="spacingAndGlyphs">No Cloak</text>
<text x="174.50" y="181.00" font-size="6.0" fill="#222" stroke="#222" stroke-width="0.12">(GFP)</text>
<text x="174.50" y="196.50" font-size="6.0" fill="#e0368a" stroke="#e0368a" stroke-width="0.12">CD300a</text>
<text x="174.50" y="203.60" font-size="6.0" fill="#e0368a" stroke="#e0368a" stroke-width="0.12">TASR</text>
<text x="174.50" y="219.40" font-size="6.0" fill="#4cb848" stroke="#4cb848" stroke-width="0.12">HLA-E</text>
<text x="25.10" y="235.63" font-size="6.2" fill="#222" stroke="#222" stroke-width="0.12" text-anchor="middle">0</text>
<text x="35.80" y="235.60" font-size="6.2" fill="#222">10<tspan font-size="4.0" dy="-2.5">4</tspan></text>
<text x="47.00" y="235.60" font-size="6.2" fill="#222">10<tspan font-size="4.0" dy="-2.5">5</tspan></text>
<text x="78.40" y="235.63" font-size="6.2" fill="#222" stroke="#222" stroke-width="0.12" text-anchor="middle">0</text>
<text x="86.00" y="235.60" font-size="6.2" fill="#222">10<tspan font-size="4.0" dy="-2.5">4</tspan></text>
<text x="93.50" y="235.60" font-size="6.2" fill="#222">10<tspan font-size="4.0" dy="-2.5">5</tspan></text>
<text x="100.60" y="235.60" font-size="6.2" fill="#222">10<tspan font-size="4.0" dy="-2.5">6</tspan></text>
<text x="132.40" y="235.63" font-size="6.2" fill="#222" stroke="#222" stroke-width="0.12" text-anchor="middle">0</text>
<text x="146.80" y="235.60" font-size="6.2" fill="#222">10<tspan font-size="4.0" dy="-2.5">4</tspan></text>
<text x="158.30" y="235.60" font-size="6.2" fill="#222">10<tspan font-size="4.0" dy="-2.5">5</tspan></text>
<text x="39.85" y="246.70" font-size="8.2" fill="#1a1a1a" stroke="#1a1a1a" stroke-width="0.3" text-anchor="middle" textLength="32.1" lengthAdjust="spacingAndGlyphs">PE 218 linker</text>
<text x="39.80" y="256.20" font-size="8.2" fill="#1a1a1a" stroke="#1a1a1a" stroke-width="0.3" text-anchor="middle" textLength="38.0" lengthAdjust="spacingAndGlyphs">(CD300a TASR)</text>
<text x="93.50" y="246.70" font-size="8.2" fill="#1a1a1a" stroke="#1a1a1a" stroke-width="0.3" text-anchor="middle" textLength="6.5" lengthAdjust="spacingAndGlyphs">PE</text>
<text x="93.50" y="256.20" font-size="8.2" fill="#1a1a1a" stroke="#1a1a1a" stroke-width="0.3" text-anchor="middle" textLength="14.6" lengthAdjust="spacingAndGlyphs">HLA-E</text>
<text x="149.70" y="246.70" font-size="8.2" fill="#1a1a1a" stroke="#1a1a1a" stroke-width="0.3" text-anchor="middle" textLength="10.5" lengthAdjust="spacingAndGlyphs">APC</text>
<text x="149.70" y="256.20" font-size="8.2" fill="#1a1a1a" stroke="#1a1a1a" stroke-width="0.3" text-anchor="middle" textLength="13.0" lengthAdjust="spacingAndGlyphs">RQR8</text>
<text x="214.20" y="146.90" font-size="10.5" fill="#000" font-weight="bold">D</text>
<text x="237.90" y="153.46" font-size="6.0" fill="#222" stroke="#222" stroke-width="0.12" text-anchor="middle">NK</text>
<text x="238.10" y="161.06" font-size="6.0" fill="#222" stroke="#222" stroke-width="0.12" text-anchor="middle" textLength="26.3" lengthAdjust="spacingAndGlyphs">Protection</text>
<defs><linearGradient id="rg" x1="0" y1="0" x2="0" y2="1"><stop offset="0" stop-color="#e41f26"/><stop offset="0.45" stop-color="#ef8a8e"/><stop offset="1" stop-color="#ffffff"/></linearGradient></defs>
<path d="M228.9,165.0 L247.3,165.0 L247.3,238.2 Z" fill="url(#rg)" stroke="none"/>
<path d="M228.9,165.0 L247.3,238.2 L247.3,165.0" fill="none" stroke="#231f20" stroke-width="0.8"/>
<path d="M228.9,165.0 L247.3,165.0" fill="none" stroke="#d41a20" stroke-width="0.7"/>
<text transform="translate(259.2,197.0) rotate(-90)" font-size="8" font-weight="bold" fill="#1a1a1a" text-anchor="middle" textLength="11" lengthAdjust="spacingAndGlyphs">IC50</text>
<line x1="277.00" y1="156.20" x2="277.00" y2="238.20" stroke="#231f20" stroke-width="1.1"/>
<line x1="276.50" y1="237.70" x2="502.30" y2="237.70" stroke="#231f20" stroke-width="1.1"/>
<line x1="273.60" y1="171.40" x2="277.00" y2="171.40" stroke="#231f20" stroke-width="0.9"/>
<line x1="273.60" y1="210.60" x2="277.00" y2="210.60" stroke="#231f20" stroke-width="0.9"/>
<line x1="275.20" y1="231.10" x2="277.00" y2="231.10" stroke="#231f20" stroke-width="0.6"/>
<line x1="275.20" y1="226.20" x2="277.00" y2="226.20" stroke="#231f20" stroke-width="0.6"/>
<line x1="275.20" y1="222.40" x2="277.00" y2="222.40" stroke="#231f20" stroke-width="0.6"/>
<line x1="275.20" y1="219.30" x2="277.00" y2="219.30" stroke="#231f20" stroke-width="0.6"/>
<line x1="275.20" y1="216.67" x2="277.00" y2="216.67" stroke="#231f20" stroke-width="0.6"/>
<line x1="275.20" y1="214.40" x2="277.00" y2="214.40" stroke="#231f20" stroke-width="0.6"/>
<line x1="275.20" y1="212.39" x2="277.00" y2="212.39" stroke="#231f20" stroke-width="0.6"/>
<line x1="275.20" y1="198.80" x2="277.00" y2="198.80" stroke="#231f20" stroke-width="0.6"/>
<line x1="275.20" y1="191.90" x2="277.00" y2="191.90" stroke="#231f20" stroke-width="0.6"/>
<line x1="275.20" y1="187.00" x2="277.00" y2="187.00" stroke="#231f20" stroke-width="0.6"/>
<line x1="275.20" y1="183.20" x2="277.00" y2="183.20" stroke="#231f20" stroke-width="0.6"/>
<line x1="275.20" y1="180.10" x2="277.00" y2="180.10" stroke="#231f20" stroke-width="0.6"/>
<line x1="275.20" y1="177.47" x2="277.00" y2="177.47" stroke="#231f20" stroke-width="0.6"/>
<line x1="275.20" y1="175.20" x2="277.00" y2="175.20" stroke="#231f20" stroke-width="0.6"/>
<line x1="275.20" y1="173.19" x2="277.00" y2="173.19" stroke="#231f20" stroke-width="0.6"/>
<line x1="275.20" y1="159.60" x2="277.00" y2="159.60" stroke="#231f20" stroke-width="0.6"/>
<text x="267.70" y="173.52" font-size="5.9" fill="#222" stroke="#222" stroke-width="0.12" text-anchor="middle">10</text>
<text x="270.00" y="212.72" font-size="5.9" fill="#222" stroke="#222" stroke-width="0.12" text-anchor="middle">1</text>
<text x="281.50" y="158.30" font-size="5.9" fill="#222" stroke="#222" stroke-width="0.12" textLength="18" lengthAdjust="spacingAndGlyphs">Limit of</text>
<text x="281.50" y="165.90" font-size="5.9" fill="#222" stroke="#222" stroke-width="0.12" textLength="35.5" lengthAdjust="spacingAndGlyphs">Quantification</text>
<path d="M316.2,157.3 V154.4 H474.8 V157.3 M395.4,154.4 V157.0" fill="none" stroke="#231f20" stroke-width="0.8"/>
<text x="339.6" y="151.8" font-size="6.1" fill="#222"><tspan font-style="italic">P</tspan> &lt; .0001</text>
<text x="422.9" y="151.8" font-size="6.1" fill="#222"><tspan font-style="italic">P</tspan> &lt; .0001</text>
<text x="316.80" y="245.62" font-size="5.9" fill="#444" stroke="#444" stroke-width="0.12" text-anchor="middle" textLength="41.7" lengthAdjust="spacingAndGlyphs">No Cloak (GFP)</text>
<text x="395.25" y="246.16" font-size="6.0" fill="#e0368a" stroke="#e0368a" stroke-width="0.12" text-anchor="middle" textLength="40" lengthAdjust="spacingAndGlyphs">CD300a TASR</text>
<text x="474.05" y="246.06" font-size="6.0" fill="#4aa846" stroke="#4aa846" stroke-width="0.12" text-anchor="middle" textLength="16.5" lengthAdjust="spacingAndGlyphs">HLA-E</text>
<g fill="#fff" stroke="#5a5a5a" stroke-width="0.85"><circle cx="316.50" cy="174.20" r="1.7"/><circle cx="316.50" cy="226.60" r="1.7"/><circle cx="316.50" cy="233.30" r="1.7"/><circle cx="313.50" cy="178.90" r="1.7"/><circle cx="313.50" cy="183.10" r="1.7"/><circle cx="313.50" cy="190.30" r="1.7"/><circle cx="313.50" cy="194.80" r="1.7"/><circle cx="313.50" cy="203.20" r="1.7"/><circle cx="313.50" cy="207.40" r="1.7"/><circle cx="313.50" cy="211.20" r="1.7"/><circle cx="313.50" cy="217.40" r="1.7"/><circle cx="313.50" cy="221.60" r="1.7"/><circle cx="319.60" cy="180.60" r="1.7"/><circle cx="319.60" cy="184.40" r="1.7"/><circle cx="319.60" cy="192.80" r="1.7"/><circle cx="319.60" cy="196.80" r="1.7"/><circle cx="319.60" cy="201.50" r="1.7"/><circle cx="319.60" cy="205.20" r="1.7"/><circle cx="319.60" cy="208.20" r="1.7"/><circle cx="319.60" cy="214.10" r="1.7"/><circle cx="319.60" cy="219.90" r="1.7"/><circle cx="319.60" cy="223.30" r="1.7"/><circle cx="325.70" cy="182.20" r="1.7"/><circle cx="325.70" cy="188.10" r="1.7"/><circle cx="325.70" cy="194.00" r="1.7"/><circle cx="325.70" cy="201.50" r="1.7"/><circle cx="325.70" cy="205.20" r="1.7"/><circle cx="325.70" cy="208.20" r="1.7"/><circle cx="325.70" cy="212.40" r="1.7"/><circle cx="325.70" cy="221.60" r="1.7"/><circle cx="301.40" cy="190.60" r="1.7"/><circle cx="301.40" cy="199.80" r="1.7"/><circle cx="307.60" cy="190.30" r="1.7"/><circle cx="307.60" cy="194.00" r="1.7"/><circle cx="307.60" cy="199.00" r="1.7"/><circle cx="307.60" cy="203.20" r="1.7"/><circle cx="307.60" cy="207.40" r="1.7"/><circle cx="307.60" cy="210.70" r="1.7"/><circle cx="307.60" cy="215.20" r="1.7"/><circle cx="307.60" cy="222.40" r="1.7"/><circle cx="331.50" cy="192.30" r="1.7"/><circle cx="331.50" cy="196.50" r="1.7"/><circle cx="331.50" cy="199.80" r="1.7"/><circle cx="337.70" cy="199.80" r="1.7"/><circle cx="295.50" cy="200.70" r="1.7"/></g>
<path d="M357.50,158.02 L359.50,160.25 L355.50,160.25 ZM360.80,158.02 L362.80,160.25 L358.80,160.25 ZM364.10,158.02 L366.10,160.25 L362.10,160.25 ZM367.40,158.02 L369.40,160.25 L365.40,160.25 ZM370.70,158.02 L372.70,160.25 L368.70,160.25 ZM374.00,158.02 L376.00,160.25 L372.00,160.25 ZM377.30,158.02 L379.30,160.25 L375.30,160.25 ZM380.60,158.02 L382.60,160.25 L378.60,160.25 ZM383.90,158.02 L385.90,160.25 L381.90,160.25 ZM387.20,158.02 L389.20,160.25 L385.20,160.25 ZM390.50,158.02 L392.50,160.25 L388.50,160.25 ZM393.80,158.02 L395.80,160.25 L391.80,160.25 ZM397.10,158.02 L399.10,160.25 L395.10,160.25 ZM400.40,158.02 L402.40,160.25 L398.40,160.25 ZM403.70,158.02 L405.70,160.25 L401.70,160.25 ZM407.00,158.02 L409.00,160.25 L405.00,160.25 ZM410.30,158.02 L412.30,160.25 L408.30,160.25 ZM413.60,158.02 L415.60,160.25 L411.60,160.25 ZM416.90,158.02 L418.90,160.25 L414.90,160.25 ZM420.20,158.02 L422.20,160.25 L418.20,160.25 ZM423.50,158.02 L425.50,160.25 L421.50,160.25 ZM426.80,158.02 L428.80,160.25 L424.80,160.25 ZM430.10,158.02 L432.10,160.25 L428.10,160.25 ZM433.40,158.02 L435.40,160.25 L431.40,160.25 ZM386.20,163.32 L388.20,165.54 L384.20,165.54 ZM390.10,163.72 L392.10,165.94 L388.10,165.94 ZM393.10,162.02 L395.10,164.24 L391.10,164.24 ZM396.50,161.12 L398.50,163.34 L394.50,163.34 ZM399.60,162.82 L401.60,165.04 L397.60,165.04 ZM400.80,164.62 L402.80,166.84 L398.80,166.84 ZM387.50,165.42 L389.50,167.64 L385.50,167.64 ZM393.50,165.02 L395.50,167.24 L391.50,167.24 ZM397.40,165.82 L399.40,168.04 L395.40,168.04 ZM383.20,168.02 L385.20,170.24 L381.20,170.24 ZM386.60,168.02 L388.60,170.24 L384.60,170.24 ZM390.50,168.92 L392.50,171.14 L388.50,171.14 ZM386.20,169.72 L388.20,171.94 L384.20,171.94 ZM394.80,170.62 L396.80,172.84 L392.80,172.84 ZM397.40,169.72 L399.40,171.94 L395.40,171.94 ZM400.80,169.72 L402.80,171.94 L398.80,171.94 ZM403.90,169.72 L405.90,171.94 L401.90,171.94 ZM408.20,168.02 L410.20,170.24 L406.20,170.24 ZM393.50,171.92 L395.50,174.14 L391.50,174.14 ZM399.10,172.32 L401.10,174.54 L397.10,174.54 ZM389.60,174.02 L391.60,176.24 L387.60,176.24 ZM393.10,174.92 L395.10,177.14 L391.10,177.14 ZM397.00,174.92 L399.00,177.14 L395.00,177.14 ZM400.80,174.02 L402.80,176.24 L398.80,176.24 ZM394.00,177.12 L396.00,179.34 L392.00,179.34 ZM397.80,177.52 L399.80,179.74 L395.80,179.74 ZM395.70,182.22 L397.70,184.44 L393.70,184.44 ZM397.40,186.52 L399.40,188.74 L395.40,188.74 ZM394.00,189.12 L396.00,191.34 L392.00,191.34 Z" fill="#fff" stroke="#e0368a" stroke-width="0.9"/>
<path d="M462.30,161.18 L464.30,158.96 L460.30,158.96 ZM468.50,161.18 L470.50,158.96 L466.50,158.96 ZM474.60,161.18 L476.60,158.96 L472.60,158.96 ZM480.40,161.18 L482.40,158.96 L478.40,158.96 ZM486.20,161.18 L488.20,158.96 L484.20,158.96 Z" fill="#2f6a2f" stroke="#2f6a2f" stroke-width="0.8"/>
<path d="M459.70,166.68 L461.70,164.46 L457.70,164.46 ZM459.70,170.08 L461.70,167.86 L457.70,167.86 ZM459.70,173.38 L461.70,171.16 L457.70,171.16 ZM465.30,166.68 L467.30,164.46 L463.30,164.46 ZM465.30,169.08 L467.30,166.86 L463.30,166.86 ZM465.30,171.48 L467.30,169.26 L463.30,169.26 ZM465.30,175.28 L467.30,173.06 L463.30,173.06 ZM465.30,176.98 L467.30,174.76 L463.30,174.76 ZM465.30,182.68 L467.30,180.46 L463.30,180.46 ZM465.30,184.88 L467.30,182.66 L463.30,182.66 ZM465.30,187.68 L467.30,185.46 L463.30,185.46 ZM465.30,194.88 L467.30,192.66 L463.30,192.66 ZM465.30,197.78 L467.30,195.56 L463.30,195.56 ZM465.30,199.88 L467.30,197.66 L463.30,197.66 ZM471.50,167.68 L473.50,165.46 L469.50,165.46 ZM471.50,173.38 L473.50,171.16 L469.50,171.16 ZM471.50,175.78 L473.50,173.56 L469.50,173.56 ZM471.50,186.28 L473.50,184.06 L469.50,184.06 ZM471.50,191.28 L473.50,189.06 L469.50,189.06 ZM471.50,194.18 L473.50,191.96 L469.50,191.96 ZM471.50,201.38 L473.50,199.16 L469.50,199.16 ZM471.50,203.98 L473.50,201.76 L469.50,201.76 ZM471.50,206.78 L473.50,204.56 L469.50,204.56 ZM477.20,163.78 L479.20,161.56 L475.20,161.56 ZM477.20,170.08 L479.20,167.86 L475.20,167.86 ZM477.20,173.38 L479.20,171.16 L475.20,171.16 ZM477.20,176.28 L479.20,174.06 L475.20,174.06 ZM477.20,179.08 L479.20,176.86 L475.20,176.86 ZM477.20,182.68 L479.20,180.46 L475.20,180.46 ZM477.20,184.88 L479.20,182.66 L475.20,182.66 ZM477.20,189.18 L479.20,186.96 L475.20,186.96 ZM477.20,193.48 L479.20,191.26 L475.20,191.26 ZM477.20,196.38 L479.20,194.16 L475.20,194.16 ZM477.20,198.78 L479.20,196.56 L475.20,196.56 ZM477.20,201.38 L479.20,199.16 L475.20,199.16 ZM477.20,203.98 L479.20,201.76 L475.20,201.76 ZM483.70,166.18 L485.70,163.96 L481.70,163.96 ZM483.70,169.08 L485.70,166.86 L481.70,166.86 ZM483.70,171.98 L485.70,169.76 L481.70,169.76 ZM483.70,174.78 L485.70,172.56 L481.70,172.56 ZM483.70,177.68 L485.70,175.46 L481.70,175.46 ZM483.70,182.68 L485.70,180.46 L481.70,180.46 ZM483.70,185.58 L485.70,183.36 L481.70,183.36 ZM489.40,167.18 L491.40,164.96 L487.40,164.96 ZM489.40,170.08 L491.40,167.86 L487.40,167.86 ZM489.40,173.38 L491.40,171.16 L487.40,171.16 ZM474.40,209.98 L476.40,207.76 L472.40,207.76 ZM474.40,215.68 L476.40,213.46 L472.40,213.46 Z" fill="#fff" stroke="#4cb848" stroke-width="0.9"/>
<line x1="277.00" y1="159.80" x2="514.00" y2="159.80" stroke="#231f20" stroke-width="1.1" stroke-dasharray="3.6,2.2"/>
<text x="7.70" y="278.00" font-size="10.5" fill="#000" font-weight="bold">E</text>
<text x="23.9" y="291.0" font-size="8.0" fill="#231f20" textLength="88.6" lengthAdjust="spacingAndGlyphs">Demographic Determinants:</text>
<text x="116.9" y="291.0" font-size="8.0" fill="#e0368a" textLength="47.5" lengthAdjust="spacingAndGlyphs">CD300a TASR</text>
<text x="167.7" y="291.0" font-size="8.0" fill="#231f20" textLength="8.3" lengthAdjust="spacingAndGlyphs">vs.</text>
<text x="179.2" y="291.0" font-size="8.0" fill="#4cb848" textLength="22.5" lengthAdjust="spacingAndGlyphs">HLA-E</text>
<line x1="31.60" y1="308.60" x2="31.60" y2="387.50" stroke="#231f20" stroke-width="1.1"/>
<line x1="31.10" y1="387.00" x2="90.00" y2="387.00" stroke="#231f20" stroke-width="1.1"/>
<line x1="29.80" y1="386.68" x2="31.60" y2="386.68" stroke="#231f20" stroke-width="0.55"/>
<line x1="29.80" y1="381.96" x2="31.60" y2="381.96" stroke="#231f20" stroke-width="0.55"/>
<line x1="29.80" y1="378.10" x2="31.60" y2="378.10" stroke="#231f20" stroke-width="0.55"/>
<line x1="29.80" y1="374.84" x2="31.60" y2="374.84" stroke="#231f20" stroke-width="0.55"/>
<line x1="29.80" y1="372.02" x2="31.60" y2="372.02" stroke="#231f20" stroke-width="0.55"/>
<line x1="29.80" y1="369.53" x2="31.60" y2="369.53" stroke="#231f20" stroke-width="0.55"/>
<line x1="28.40" y1="367.30" x2="31.60" y2="367.30" stroke="#231f20" stroke-width="0.8"/>
<line x1="29.80" y1="352.64" x2="31.60" y2="352.64" stroke="#231f20" stroke-width="0.55"/>
<line x1="29.80" y1="344.06" x2="31.60" y2="344.06" stroke="#231f20" stroke-width="0.55"/>
<line x1="29.80" y1="337.98" x2="31.60" y2="337.98" stroke="#231f20" stroke-width="0.55"/>
<line x1="29.80" y1="333.26" x2="31.60" y2="333.26" stroke="#231f20" stroke-width="0.55"/>
<line x1="29.80" y1="329.40" x2="31.60" y2="329.40" stroke="#231f20" stroke-width="0.55"/>
<line x1="29.80" y1="326.14" x2="31.60" y2="326.14" stroke="#231f20" stroke-width="0.55"/>
<line x1="29.80" y1="323.32" x2="31.60" y2="323.32" stroke="#231f20" stroke-width="0.55"/>
<line x1="29.80" y1="320.83" x2="31.60" y2="320.83" stroke="#231f20" stroke-width="0.55"/>
<line x1="28.40" y1="318.60" x2="31.60" y2="318.60" stroke="#231f20" stroke-width="0.8"/>
<line x1="92.20" y1="308.60" x2="92.20" y2="387.50" stroke="#231f20" stroke-width="1.1"/>
<line x1="91.70" y1="387.00" x2="124.20" y2="387.00" stroke="#231f20" stroke-width="1.1"/>
<line x1="90.40" y1="386.68" x2="92.20" y2="386.68" stroke="#231f20" stroke-width="0.55"/>
<line x1="90.40" y1="381.96" x2="92.20" y2="381.96" stroke="#231f20" stroke-width="0.55"/>
<line x1="90.40" y1="378.10" x2="92.20" y2="378.10" stroke="#231f20" stroke-width="0.55"/>
<line x1="90.40" y1="374.84" x2="92.20" y2="374.84" stroke="#231f20" stroke-width="0.55"/>
<line x1="90.40" y1="372.02" x2="92.20" y2="372.02" stroke="#231f20" stroke-width="0.55"/>
<line x1="90.40" y1="369.53" x2="92.20" y2="369.53" stroke="#231f20" stroke-width="0.55"/>
<line x1="89.00" y1="367.30" x2="92.20" y2="367.30" stroke="#231f20" stroke-width="0.8"/>
<line x1="90.40" y1="352.64" x2="92.20" y2="352.64" stroke="#231f20" stroke-width="0.55"/>
<line x1="90.40" y1="344.06" x2="92.20" y2="344.06" stroke="#231f20" stroke-width="0.55"/>
<line x1="90.40" y1="337.98" x2="92.20" y2="337.98" stroke="#231f20" stroke-width="0.55"/>
<line x1="90.40" y1="333.26" x2="92.20" y2="333.26" stroke="#231f20" stroke-width="0.55"/>
<line x1="90.40" y1="329.40" x2="92.20" y2="329.40" stroke="#231f20" stroke-width="0.55"/>
<line x1="90.40" y1="326.14" x2="92.20" y2="326.14" stroke="#231f20" stroke-width="0.55"/>
<line x1="90.40" y1="323.32" x2="92.20" y2="323.32" stroke="#231f20" stroke-width="0.55"/>
<line x1="90.40" y1="320.83" x2="92.20" y2="320.83" stroke="#231f20" stroke-width="0.55"/>
<line x1="89.00" y1="318.60" x2="92.20" y2="318.60" stroke="#231f20" stroke-width="0.8"/>
<line x1="126.40" y1="308.60" x2="126.40" y2="387.50" stroke="#231f20" stroke-width="1.1"/>
<line x1="125.90" y1="387.00" x2="160.00" y2="387.00" stroke="#231f20" stroke-width="1.1"/>
<line x1="124.60" y1="386.68" x2="126.40" y2="386.68" stroke="#231f20" stroke-width="0.55"/>
<line x1="124.60" y1="381.96" x2="126.40" y2="381.96" stroke="#231f20" stroke-width="0.55"/>
<line x1="124.60" y1="378.10" x2="126.40" y2="378.10" stroke="#231f20" stroke-width="0.55"/>
<line x1="124.60" y1="374.84" x2="126.40" y2="374.84" stroke="#231f20" stroke-width="0.55"/>
<line x1="124.60" y1="372.02" x2="126.40" y2="372.02" stroke="#231f20" stroke-width="0.55"/>
<line x1="124.60" y1="369.53" x2="126.40" y2="369.53" stroke="#231f20" stroke-width="0.55"/>
<line x1="123.20" y1="367.30" x2="126.40" y2="367.30" stroke="#231f20" stroke-width="0.8"/>
<line x1="124.60" y1="352.64" x2="126.40" y2="352.64" stroke="#231f20" stroke-width="0.55"/>
<line x1="124.60" y1="344.06" x2="126.40" y2="344.06" stroke="#231f20" stroke-width="0.55"/>
<line x1="124.60" y1="337.98" x2="126.40" y2="337.98" stroke="#231f20" stroke-width="0.55"/>
<line x1="124.60" y1="333.26" x2="126.40" y2="333.26" stroke="#231f20" stroke-width="0.55"/>
<line x1="124.60" y1="329.40" x2="126.40" y2="329.40" stroke="#231f20" stroke-width="0.55"/>
<line x1="124.60" y1="326.14" x2="126.40" y2="326.14" stroke="#231f20" stroke-width="0.55"/>
<line x1="124.60" y1="323.32" x2="126.40" y2="323.32" stroke="#231f20" stroke-width="0.55"/>
<line x1="124.60" y1="320.83" x2="126.40" y2="320.83" stroke="#231f20" stroke-width="0.55"/>
<line x1="123.20" y1="318.60" x2="126.40" y2="318.60" stroke="#231f20" stroke-width="0.8"/>
<line x1="162.50" y1="308.60" x2="162.50" y2="387.50" stroke="#231f20" stroke-width="1.1"/>
<line x1="162.00" y1="387.00" x2="194.40" y2="387.00" stroke="#231f20" stroke-width="1.1"/>
<line x1="160.70" y1="386.68" x2="162.50" y2="386.68" stroke="#231f20" stroke-width="0.55"/>
<line x1="160.70" y1="381.96" x2="162.50" y2="381.96" stroke="#231f20" stroke-width="0.55"/>
<line x1="160.70" y1="378.10" x2="162.50" y2="378.10" stroke="#231f20" stroke-width="0.55"/>
<line x1="160.70" y1="374.84" x2="162.50" y2="374.84" stroke="#231f20" stroke-width="0.55"/>
<line x1="160.70" y1="372.02" x2="162.50" y2="372.02" stroke="#231f20" stroke-width="0.55"/>
<line x1="160.70" y1="369.53" x2="162.50" y2="369.53" stroke="#231f20" stroke-width="0.55"/>
<line x1="159.30" y1="367.30" x2="162.50" y2="367.30" stroke="#231f20" stroke-width="0.8"/>
<line x1="160.70" y1="352.64" x2="162.50" y2="352.64" stroke="#231f20" stroke-width="0.55"/>
<line x1="160.70" y1="344.06" x2="162.50" y2="344.06" stroke="#231f20" stroke-width="0.55"/>
<line x1="160.70" y1="337.98" x2="162.50" y2="337.98" stroke="#231f20" stroke-width="0.55"/>
<line x1="160.70" y1="333.26" x2="162.50" y2="333.26" stroke="#231f20" stroke-width="0.55"/>
<line x1="160.70" y1="329.40" x2="162.50" y2="329.40" stroke="#231f20" stroke-width="0.55"/>
<line x1="160.70" y1="326.14" x2="162.50" y2="326.14" stroke="#231f20" stroke-width="0.55"/>
<line x1="160.70" y1="323.32" x2="162.50" y2="323.32" stroke="#231f20" stroke-width="0.55"/>
<line x1="160.70" y1="320.83" x2="162.50" y2="320.83" stroke="#231f20" stroke-width="0.55"/>
<line x1="159.30" y1="318.60" x2="162.50" y2="318.60" stroke="#231f20" stroke-width="0.8"/>
<text x="22.60" y="320.72" font-size="5.9" fill="#222" stroke="#222" stroke-width="0.12" text-anchor="middle">10</text>
<text x="24.40" y="369.42" font-size="5.9" fill="#222" stroke="#222" stroke-width="0.12" text-anchor="middle">1</text>
<text transform="translate(12.60,372.00) rotate(-90)" font-size="6.3" font-weight="bold" fill="#e0368a" stroke="none" textLength="13.4" lengthAdjust="spacingAndGlyphs">IC50</text>
<text transform="translate(14.40,358.40) rotate(-90)" font-size="4.7" font-weight="bold" fill="#e0368a" stroke="none" textLength="6.6" lengthAdjust="spacingAndGlyphs">TASR</text>
<text transform="translate(12.60,351.80) rotate(-90)" font-size="6.3" font-weight="bold" fill="#2a9e8c" stroke="none" textLength="16.6" lengthAdjust="spacingAndGlyphs">/IC50</text>
<text transform="translate(14.40,335.00) rotate(-90)" font-size="4.7" font-weight="bold" fill="#2a9e8c" stroke="none" textLength="12.4" lengthAdjust="spacingAndGlyphs">HLA-E</text>
<text x="39.25" y="395.40" font-size="5.8" fill="#222" stroke="#222" stroke-width="0.12" text-anchor="middle">AA</text>
<text x="54.00" y="395.40" font-size="5.8" fill="#222" stroke="#222" stroke-width="0.12" text-anchor="middle">Cau</text>
<text x="68.25" y="395.40" font-size="5.8" fill="#222" stroke="#222" stroke-width="0.12" text-anchor="middle">His</text>
<text x="83.05" y="395.40" font-size="5.8" fill="#222" stroke="#222" stroke-width="0.12" text-anchor="middle">Other</text>
<text x="100.50" y="395.40" font-size="5.8" fill="#222" stroke="#222" stroke-width="0.12" text-anchor="middle">&lt;50</text>
<text x="116.50" y="395.40" font-size="5.8" fill="#222" stroke="#222" stroke-width="0.12" text-anchor="middle">&gt;50</text>
<text x="134.80" y="395.40" font-size="5.8" fill="#222" stroke="#222" stroke-width="0.12" text-anchor="middle">F</text>
<text x="151.40" y="395.40" font-size="5.8" fill="#222" stroke="#222" stroke-width="0.12" text-anchor="middle">M</text>
<text x="170.70" y="395.40" font-size="5.8" fill="#222" stroke="#222" stroke-width="0.12" text-anchor="middle">Neg</text>
<text x="186.70" y="395.40" font-size="5.8" fill="#222" stroke="#222" stroke-width="0.12" text-anchor="middle">Pos</text>
<text x="61.30" y="406.60" font-size="7.4" fill="#1a1a1a" stroke="#1a1a1a" stroke-width="0.2" text-anchor="middle" font-weight="bold" textLength="21" lengthAdjust="spacingAndGlyphs">Ethnicity</text>
<text x="107.45" y="406.60" font-size="7.4" fill="#1a1a1a" stroke="#1a1a1a" stroke-width="0.2" text-anchor="middle" font-weight="bold" textLength="9.5" lengthAdjust="spacingAndGlyphs">Age</text>
<text x="142.15" y="406.60" font-size="7.4" fill="#1a1a1a" stroke="#1a1a1a" stroke-width="0.2" text-anchor="middle" font-weight="bold" textLength="17.5" lengthAdjust="spacingAndGlyphs">Gender</text>
<text x="177.25" y="406.60" font-size="7.4" fill="#1a1a1a" stroke="#1a1a1a" stroke-width="0.2" text-anchor="middle" font-weight="bold" textLength="11.7" lengthAdjust="spacingAndGlyphs">CMV</text>
<path d="M39.2,303.8 H83.4 M39.2,301.8 V305.8 M83.4,301.8 V305.8" fill="none" stroke="#231f20" stroke-width="0.9"/>
<path d="M99.7,307.5 V303.4 H116.3 V316" fill="none" stroke="#231f20" stroke-width="0.9"/>
<path d="M134.2,315 V303.4 H152.5 V308.2" fill="none" stroke="#231f20" stroke-width="0.9"/>
<path d="M170.5,343.9 V303.6 H186.4 V307.5" fill="none" stroke="#231f20" stroke-width="0.9"/>
<text x="60.30" y="300.27" font-size="6.3" fill="#222" stroke="#222" stroke-width="0.12" text-anchor="middle">ns</text>
<text x="108.30" y="300.27" font-size="6.3" fill="#222" stroke="#222" stroke-width="0.12" text-anchor="middle">ns</text>
<text x="142.70" y="300.27" font-size="6.3" fill="#222" stroke="#222" stroke-width="0.12" text-anchor="middle">ns</text>
<text x="178.70" y="300.23" font-size="6.2" fill="#222" stroke="#222" stroke-width="0.12" text-anchor="middle">&lt; .0001</text>
<g fill="#fff" stroke="#a3a3a3" stroke-width="0.75"><circle cx="39.20" cy="319.20" r="1.9"/><circle cx="36.10" cy="326.30" r="1.9"/><circle cx="39.20" cy="329.00" r="1.9"/><circle cx="36.10" cy="348.70" r="1.9"/><circle cx="42.60" cy="345.70" r="1.9"/><circle cx="36.10" cy="352.20" r="1.9"/><circle cx="39.20" cy="351.30" r="1.9"/><circle cx="42.60" cy="355.80" r="1.9"/><circle cx="36.10" cy="358.90" r="1.9"/><circle cx="42.60" cy="360.90" r="1.9"/><circle cx="39.20" cy="364.00" r="1.9"/><circle cx="39.20" cy="374.10" r="1.9"/><circle cx="53.80" cy="309.50" r="1.9"/><circle cx="53.80" cy="341.60" r="1.9"/><circle cx="53.80" cy="345.00" r="1.9"/><circle cx="53.80" cy="348.70" r="1.9"/><circle cx="53.80" cy="353.80" r="1.9"/><circle cx="50.40" cy="359.90" r="1.9"/><circle cx="53.80" cy="360.30" r="1.9"/><circle cx="57.10" cy="358.30" r="1.9"/><circle cx="50.40" cy="365.60" r="1.9"/><circle cx="53.80" cy="367.00" r="1.9"/><circle cx="57.10" cy="364.60" r="1.9"/><circle cx="52.40" cy="369.00" r="1.9"/><circle cx="55.40" cy="368.00" r="1.9"/><circle cx="68.70" cy="317.60" r="1.9"/><circle cx="65.60" cy="327.40" r="1.9"/><circle cx="68.70" cy="330.40" r="1.9"/><circle cx="65.60" cy="330.40" r="1.9"/><circle cx="68.70" cy="337.50" r="1.9"/><circle cx="68.70" cy="343.60" r="1.9"/><circle cx="65.60" cy="346.70" r="1.9"/><circle cx="71.70" cy="347.30" r="1.9"/><circle cx="68.70" cy="350.70" r="1.9"/><circle cx="66.60" cy="352.20" r="1.9"/><circle cx="70.70" cy="350.70" r="1.9"/><circle cx="68.70" cy="357.40" r="1.9"/><circle cx="68.70" cy="364.30" r="1.9"/><circle cx="65.60" cy="367.60" r="1.9"/><circle cx="71.70" cy="367.60" r="1.9"/><circle cx="82.90" cy="340.00" r="1.9"/><circle cx="80.60" cy="365.40" r="1.9"/><circle cx="85.20" cy="365.40" r="1.9"/><circle cx="82.90" cy="367.80" r="1.9"/><circle cx="82.90" cy="380.60" r="1.9"/><circle cx="99.70" cy="309.70" r="1.9"/><circle cx="99.70" cy="327.60" r="1.9"/><circle cx="99.70" cy="337.70" r="1.9"/><circle cx="101.80" cy="347.80" r="1.9"/><circle cx="98.60" cy="351.70" r="1.9"/><circle cx="96.50" cy="357.70" r="1.9"/><circle cx="99.70" cy="358.10" r="1.9"/><circle cx="102.90" cy="357.70" r="1.9"/><circle cx="98.20" cy="362.50" r="1.9"/><circle cx="101.80" cy="362.50" r="1.9"/><circle cx="96.50" cy="367.20" r="1.9"/><circle cx="99.70" cy="367.20" r="1.9"/><circle cx="102.90" cy="367.20" r="1.9"/><circle cx="115.80" cy="318.30" r="1.9"/><circle cx="115.80" cy="327.60" r="1.9"/><circle cx="117.60" cy="329.20" r="1.9"/><circle cx="114.80" cy="339.80" r="1.9"/><circle cx="117.60" cy="342.00" r="1.9"/><circle cx="112.60" cy="345.20" r="1.9"/><circle cx="115.80" cy="345.20" r="1.9"/><circle cx="119.10" cy="346.30" r="1.9"/><circle cx="112.60" cy="349.60" r="1.9"/><circle cx="115.80" cy="350.00" r="1.9"/><circle cx="119.10" cy="350.60" r="1.9"/><circle cx="113.70" cy="353.80" r="1.9"/><circle cx="116.90" cy="353.80" r="1.9"/><circle cx="112.60" cy="356.40" r="1.9"/><circle cx="116.90" cy="357.10" r="1.9"/><circle cx="119.10" cy="355.60" r="1.9"/><circle cx="114.80" cy="360.30" r="1.9"/><circle cx="118.00" cy="361.40" r="1.9"/><circle cx="113.70" cy="364.60" r="1.9"/><circle cx="116.90" cy="364.60" r="1.9"/><circle cx="115.80" cy="368.90" r="1.9"/><circle cx="118.00" cy="369.40" r="1.9"/><circle cx="115.80" cy="374.30" r="1.9"/><circle cx="115.80" cy="380.80" r="1.9"/><circle cx="134.80" cy="317.70" r="1.9"/><circle cx="134.80" cy="327.60" r="1.9"/><circle cx="134.80" cy="330.20" r="1.9"/><circle cx="134.80" cy="342.00" r="1.9"/><circle cx="133.10" cy="346.30" r="1.9"/><circle cx="136.30" cy="345.70" r="1.9"/><circle cx="134.80" cy="350.00" r="1.9"/><circle cx="133.10" cy="356.40" r="1.9"/><circle cx="136.30" cy="357.70" r="1.9"/><circle cx="131.40" cy="358.60" r="1.9"/><circle cx="134.20" cy="359.20" r="1.9"/><circle cx="137.40" cy="358.60" r="1.9"/><circle cx="131.40" cy="362.90" r="1.9"/><circle cx="134.20" cy="362.90" r="1.9"/><circle cx="137.40" cy="362.50" r="1.9"/><circle cx="131.40" cy="367.20" r="1.9"/><circle cx="134.20" cy="367.20" r="1.9"/><circle cx="137.40" cy="367.20" r="1.9"/><circle cx="151.40" cy="309.70" r="1.9"/><circle cx="151.40" cy="319.40" r="1.9"/><circle cx="149.90" cy="326.90" r="1.9"/><circle cx="152.90" cy="328.40" r="1.9"/><circle cx="151.40" cy="335.50" r="1.9"/><circle cx="149.90" cy="338.80" r="1.9"/><circle cx="148.20" cy="345.20" r="1.9"/><circle cx="151.40" cy="345.20" r="1.9"/><circle cx="154.20" cy="345.70" r="1.9"/><circle cx="148.20" cy="351.30" r="1.9"/><circle cx="151.40" cy="350.60" r="1.9"/><circle cx="154.20" cy="351.70" r="1.9"/><circle cx="150.30" cy="354.90" r="1.9"/><circle cx="153.50" cy="356.40" r="1.9"/><circle cx="151.40" cy="360.30" r="1.9"/><circle cx="149.90" cy="362.90" r="1.9"/><circle cx="151.40" cy="364.60" r="1.9"/><circle cx="151.40" cy="368.90" r="1.9"/><circle cx="151.40" cy="374.30" r="1.9"/><circle cx="151.40" cy="380.10" r="1.9"/><circle cx="170.50" cy="346.00" r="1.9"/><circle cx="169.40" cy="350.70" r="1.9"/><circle cx="171.60" cy="353.00" r="1.9"/><circle cx="168.20" cy="356.40" r="1.9"/><circle cx="171.60" cy="356.40" r="1.9"/><circle cx="167.10" cy="359.80" r="1.9"/><circle cx="170.50" cy="359.80" r="1.9"/><circle cx="173.50" cy="359.80" r="1.9"/><circle cx="168.20" cy="363.20" r="1.9"/><circle cx="171.60" cy="363.20" r="1.9"/><circle cx="167.10" cy="366.60" r="1.9"/><circle cx="170.50" cy="367.30" r="1.9"/><circle cx="173.50" cy="367.30" r="1.9"/><circle cx="169.40" cy="370.00" r="1.9"/><circle cx="170.50" cy="374.10" r="1.9"/><circle cx="170.50" cy="380.20" r="1.9"/></g>
<g fill="#fff" stroke="#1d4f8c" stroke-width="1.05"><circle cx="186.40" cy="309.10" r="2.0"/><circle cx="185.63" cy="317.70" r="2.0"/><circle cx="187.17" cy="319.50" r="2.0"/><circle cx="183.87" cy="324.00" r="2.0"/><circle cx="187.61" cy="323.40" r="2.0"/><circle cx="183.21" cy="328.60" r="2.0"/><circle cx="186.40" cy="330.20" r="2.0"/><circle cx="188.93" cy="328.60" r="2.0"/><circle cx="185.19" cy="336.00" r="2.0"/><circle cx="187.61" cy="338.20" r="2.0"/><circle cx="183.21" cy="342.00" r="2.0"/><circle cx="186.40" cy="343.00" r="2.0"/><circle cx="188.93" cy="342.00" r="2.0"/><circle cx="183.21" cy="346.40" r="2.0"/><circle cx="186.40" cy="346.80" r="2.0"/><circle cx="190.14" cy="346.40" r="2.0"/><circle cx="184.64" cy="349.50" r="2.0"/><circle cx="188.16" cy="349.50" r="2.0"/><circle cx="183.21" cy="354.50" r="2.0"/><circle cx="186.40" cy="356.40" r="2.0"/><circle cx="184.64" cy="360.00" r="2.0"/><circle cx="188.16" cy="361.00" r="2.0"/><circle cx="183.21" cy="364.30" r="2.0"/><circle cx="187.17" cy="364.30" r="2.0"/></g>
<line x1="32.70" y1="353.00" x2="45.70" y2="353.00" stroke="#a3a3a3" stroke-width="0.7"/>
<line x1="47.30" y1="359.50" x2="60.30" y2="359.50" stroke="#a3a3a3" stroke-width="0.7"/>
<line x1="62.20" y1="346.70" x2="75.20" y2="346.70" stroke="#a3a3a3" stroke-width="0.7"/>
<line x1="76.40" y1="365.40" x2="89.40" y2="365.40" stroke="#a3a3a3" stroke-width="0.7"/>
<line x1="93.20" y1="356.00" x2="106.20" y2="356.00" stroke="#a3a3a3" stroke-width="0.7"/>
<line x1="109.30" y1="351.70" x2="122.30" y2="351.70" stroke="#a3a3a3" stroke-width="0.7"/>
<line x1="128.30" y1="357.70" x2="141.30" y2="357.70" stroke="#a3a3a3" stroke-width="0.7"/>
<line x1="144.90" y1="351.30" x2="157.90" y2="351.30" stroke="#a3a3a3" stroke-width="0.7"/>
<line x1="164.00" y1="363.20" x2="177.00" y2="363.20" stroke="#a3a3a3" stroke-width="0.7"/>
<line x1="178.50" y1="344.50" x2="194.00" y2="344.50" stroke="#1d4f8c" stroke-width="0.9"/>
<text x="215.50" y="278.00" font-size="10.5" fill="#000" font-weight="bold">F</text>
<text x="249.55" y="289.50" font-size="6.1" fill="#222" stroke="#222" stroke-width="0.12" text-anchor="middle" textLength="32.7" lengthAdjust="spacingAndGlyphs">Adaptive NK</text>
<text x="225.1" y="296.8" font-size="5.9" fill="#222" textLength="48.8" lengthAdjust="spacingAndGlyphs">(NKG2A<tspan font-size="3.8" dy="-2">−</tspan><tspan dy="2">NKG2C</tspan><tspan font-size="3.8" dy="-2">+</tspan></text>
<text x="219.9" y="303.8" font-size="5.9" fill="#222" textLength="58.8" lengthAdjust="spacingAndGlyphs">CD56<tspan font-size="3.8" dy="-2">+</tspan><tspan dy="2">CD16</tspan><tspan font-size="3.8" dy="-2">+</tspan><tspan dy="2">CD57</tspan><tspan font-size="3.8" dy="-2">+</tspan><tspan dy="2">)</tspan></text>
<text x="258.60" y="314.92" font-size="5.9" fill="#222" stroke="#222" stroke-width="0.12" text-anchor="middle">&lt; .0001</text>
<line x1="241.20" y1="319.50" x2="241.20" y2="387.50" stroke="#231f20" stroke-width="1.1"/>
<line x1="240.70" y1="387.00" x2="274.30" y2="387.00" stroke="#231f20" stroke-width="1.1"/>
<line x1="239.40" y1="380.60" x2="241.20" y2="380.60" stroke="#231f20" stroke-width="0.55"/>
<line x1="239.40" y1="376.44" x2="241.20" y2="376.44" stroke="#231f20" stroke-width="0.55"/>
<line x1="239.40" y1="373.49" x2="241.20" y2="373.49" stroke="#231f20" stroke-width="0.55"/>
<line x1="239.40" y1="371.20" x2="241.20" y2="371.20" stroke="#231f20" stroke-width="0.55"/>
<line x1="239.40" y1="369.34" x2="241.20" y2="369.34" stroke="#231f20" stroke-width="0.55"/>
<line x1="239.40" y1="367.76" x2="241.20" y2="367.76" stroke="#231f20" stroke-width="0.55"/>
<line x1="239.40" y1="366.39" x2="241.20" y2="366.39" stroke="#231f20" stroke-width="0.55"/>
<line x1="239.40" y1="365.18" x2="241.20" y2="365.18" stroke="#231f20" stroke-width="0.55"/>
<line x1="238.00" y1="364.10" x2="241.20" y2="364.10" stroke="#231f20" stroke-width="0.8"/>
<line x1="239.40" y1="357.00" x2="241.20" y2="357.00" stroke="#231f20" stroke-width="0.55"/>
<line x1="239.40" y1="352.84" x2="241.20" y2="352.84" stroke="#231f20" stroke-width="0.55"/>
<line x1="239.40" y1="349.89" x2="241.20" y2="349.89" stroke="#231f20" stroke-width="0.55"/>
<line x1="239.40" y1="347.60" x2="241.20" y2="347.60" stroke="#231f20" stroke-width="0.55"/>
<line x1="239.40" y1="345.74" x2="241.20" y2="345.74" stroke="#231f20" stroke-width="0.55"/>
<line x1="239.40" y1="344.16" x2="241.20" y2="344.16" stroke="#231f20" stroke-width="0.55"/>
<line x1="239.40" y1="342.79" x2="241.20" y2="342.79" stroke="#231f20" stroke-width="0.55"/>
<line x1="239.40" y1="341.58" x2="241.20" y2="341.58" stroke="#231f20" stroke-width="0.55"/>
<line x1="238.00" y1="340.50" x2="241.20" y2="340.50" stroke="#231f20" stroke-width="0.8"/>
<line x1="239.40" y1="333.40" x2="241.20" y2="333.40" stroke="#231f20" stroke-width="0.55"/>
<line x1="239.40" y1="329.24" x2="241.20" y2="329.24" stroke="#231f20" stroke-width="0.55"/>
<line x1="239.40" y1="326.29" x2="241.20" y2="326.29" stroke="#231f20" stroke-width="0.55"/>
<line x1="239.40" y1="324.00" x2="241.20" y2="324.00" stroke="#231f20" stroke-width="0.55"/>
<line x1="239.40" y1="322.14" x2="241.20" y2="322.14" stroke="#231f20" stroke-width="0.55"/>
<line x1="239.40" y1="320.56" x2="241.20" y2="320.56" stroke="#231f20" stroke-width="0.55"/>
<text x="236.20" y="342.40" font-size="5.9" fill="#222" stroke="#222" stroke-width="0.12" text-anchor="end">10</text>
<text x="236.00" y="365.40" font-size="5.9" fill="#222" stroke="#222" stroke-width="0.12" text-anchor="end">1</text>
<text x="236.00" y="389.30" font-size="5.9" fill="#222" stroke="#222" stroke-width="0.12" text-anchor="end">0.1</text>
<text transform="translate(223.5,349.6) rotate(-90)" font-size="7.2" font-weight="bold" text-anchor="middle" fill="#1a1a1a" textLength="37.7" lengthAdjust="spacingAndGlyphs">% of NK cells</text>
<text x="250.00" y="395.32" font-size="5.9" fill="#222" stroke="#222" stroke-width="0.12" text-anchor="middle">Neg</text>
<text x="265.90" y="395.32" font-size="5.9" fill="#222" stroke="#222" stroke-width="0.12" text-anchor="middle">Pos</text>
<text x="258.20" y="406.60" font-size="7.4" fill="#1a1a1a" stroke="#1a1a1a" stroke-width="0.2" text-anchor="middle" font-weight="bold" textLength="11.7" lengthAdjust="spacingAndGlyphs">CMV</text>
<path d="M249.3,350 V319 H265.8 V321.4" fill="none" stroke="#231f20" stroke-width="0.9"/>
<g fill="#fff" stroke="#a3a3a3" stroke-width="0.75"><circle cx="249.30" cy="350.00" r="1.9"/><circle cx="245.20" cy="353.70" r="1.9"/><circle cx="251.70" cy="353.70" r="1.9"/><circle cx="254.60" cy="353.30" r="1.9"/><circle cx="244.30" cy="357.30" r="1.9"/><circle cx="248.00" cy="357.00" r="1.9"/><circle cx="251.70" cy="357.70" r="1.9"/><circle cx="246.10" cy="360.50" r="1.9"/><circle cx="249.80" cy="359.90" r="1.9"/><circle cx="254.60" cy="360.50" r="1.9"/><circle cx="245.20" cy="364.00" r="1.9"/><circle cx="248.90" cy="364.40" r="1.9"/><circle cx="252.60" cy="363.20" r="1.9"/><circle cx="247.00" cy="367.00" r="1.9"/><circle cx="250.70" cy="367.50" r="1.9"/><circle cx="254.40" cy="366.60" r="1.9"/><circle cx="249.30" cy="370.30" r="1.9"/><circle cx="246.10" cy="373.60" r="1.9"/><circle cx="251.70" cy="373.60" r="1.9"/><circle cx="248.00" cy="376.70" r="1.9"/><circle cx="253.50" cy="376.70" r="1.9"/><circle cx="249.80" cy="381.30" r="1.9"/><circle cx="249.30" cy="384.60" r="1.9"/></g>
<g fill="#fff" stroke="#1d4f8c" stroke-width="1.05"><circle cx="265.74" cy="323.30" r="2.0"/><circle cx="269.81" cy="327.00" r="2.0"/><circle cx="262.33" cy="330.00" r="2.0"/><circle cx="266.40" cy="332.50" r="2.0"/><circle cx="269.37" cy="332.00" r="2.0"/><circle cx="261.34" cy="333.40" r="2.0"/><circle cx="264.97" cy="333.40" r="2.0"/><circle cx="271.46" cy="333.40" r="2.0"/><circle cx="266.40" cy="338.00" r="2.0"/><circle cx="270.47" cy="337.10" r="2.0"/><circle cx="262.33" cy="342.50" r="2.0"/><circle cx="271.46" cy="342.10" r="2.0"/><circle cx="266.40" cy="345.40" r="2.0"/><circle cx="260.35" cy="348.60" r="2.0"/><circle cx="266.40" cy="349.10" r="2.0"/><circle cx="261.34" cy="351.50" r="2.0"/><circle cx="264.97" cy="351.80" r="2.0"/><circle cx="269.37" cy="351.00" r="2.0"/><circle cx="272.45" cy="351.50" r="2.0"/><circle cx="262.33" cy="354.60" r="2.0"/><circle cx="266.40" cy="354.00" r="2.0"/><circle cx="270.47" cy="355.20" r="2.0"/><circle cx="260.35" cy="357.80" r="2.0"/><circle cx="264.31" cy="357.80" r="2.0"/><circle cx="268.38" cy="358.30" r="2.0"/><circle cx="271.90" cy="357.80" r="2.0"/><circle cx="263.32" cy="360.70" r="2.0"/><circle cx="267.39" cy="361.00" r="2.0"/><circle cx="271.02" cy="360.20" r="2.0"/><circle cx="265.41" cy="362.50" r="2.0"/></g>
<line x1="243.50" y1="363.80" x2="256.00" y2="363.80" stroke="#a3a3a3" stroke-width="0.7"/>
<line x1="259.00" y1="348.00" x2="274.00" y2="348.00" stroke="#1d4f8c" stroke-width="0.9"/>
<text x="291.70" y="278.00" font-size="10.5" fill="#000" font-weight="bold">G</text>
<text x="412.80" y="291.00" font-size="8.2" fill="#231f20" text-anchor="middle" textLength="133.8" lengthAdjust="spacingAndGlyphs">Adaptive NK vs. Normalized Protection</text>
<line x1="317.50" y1="300.50" x2="317.50" y2="387.00" stroke="#231f20" stroke-width="1.1"/>
<line x1="317.00" y1="386.60" x2="398.50" y2="386.60" stroke="#231f20" stroke-width="1.1"/>
<line x1="314.30" y1="379.40" x2="317.50" y2="379.40" stroke="#231f20" stroke-width="0.8"/>
<line x1="315.70" y1="363.69" x2="317.50" y2="363.69" stroke="#231f20" stroke-width="0.55"/>
<line x1="315.70" y1="354.49" x2="317.50" y2="354.49" stroke="#231f20" stroke-width="0.55"/>
<line x1="315.70" y1="347.97" x2="317.50" y2="347.97" stroke="#231f20" stroke-width="0.55"/>
<line x1="315.70" y1="342.91" x2="317.50" y2="342.91" stroke="#231f20" stroke-width="0.55"/>
<line x1="315.70" y1="338.78" x2="317.50" y2="338.78" stroke="#231f20" stroke-width="0.55"/>
<line x1="315.70" y1="335.29" x2="317.50" y2="335.29" stroke="#231f20" stroke-width="0.55"/>
<line x1="315.70" y1="332.26" x2="317.50" y2="332.26" stroke="#231f20" stroke-width="0.55"/>
<line x1="315.70" y1="329.59" x2="317.50" y2="329.59" stroke="#231f20" stroke-width="0.55"/>
<line x1="314.30" y1="327.20" x2="317.50" y2="327.20" stroke="#231f20" stroke-width="0.8"/>
<line x1="315.70" y1="311.49" x2="317.50" y2="311.49" stroke="#231f20" stroke-width="0.55"/>
<line x1="315.70" y1="302.29" x2="317.50" y2="302.29" stroke="#231f20" stroke-width="0.55"/>
<line x1="315.70" y1="384.46" x2="317.50" y2="384.46" stroke="#231f20" stroke-width="0.55"/>
<line x1="315.70" y1="381.79" x2="317.50" y2="381.79" stroke="#231f20" stroke-width="0.55"/>
<line x1="317.50" y1="386.60" x2="317.50" y2="389.80" stroke="#231f20" stroke-width="0.8"/>
<line x1="326.05" y1="386.60" x2="326.05" y2="388.40" stroke="#231f20" stroke-width="0.55"/>
<line x1="331.05" y1="386.60" x2="331.05" y2="388.40" stroke="#231f20" stroke-width="0.55"/>
<line x1="334.60" y1="386.60" x2="334.60" y2="388.40" stroke="#231f20" stroke-width="0.55"/>
<line x1="337.35" y1="386.60" x2="337.35" y2="388.40" stroke="#231f20" stroke-width="0.55"/>
<line x1="339.60" y1="386.60" x2="339.60" y2="388.40" stroke="#231f20" stroke-width="0.55"/>
<line x1="341.50" y1="386.60" x2="341.50" y2="388.40" stroke="#231f20" stroke-width="0.55"/>
<line x1="343.15" y1="386.60" x2="343.15" y2="388.40" stroke="#231f20" stroke-width="0.55"/>
<line x1="344.60" y1="386.60" x2="344.60" y2="388.40" stroke="#231f20" stroke-width="0.55"/>
<line x1="345.90" y1="386.60" x2="345.90" y2="389.80" stroke="#231f20" stroke-width="0.8"/>
<line x1="354.45" y1="386.60" x2="354.45" y2="388.40" stroke="#231f20" stroke-width="0.55"/>
<line x1="359.45" y1="386.60" x2="359.45" y2="388.40" stroke="#231f20" stroke-width="0.55"/>
<line x1="363.00" y1="386.60" x2="363.00" y2="388.40" stroke="#231f20" stroke-width="0.55"/>
<line x1="365.75" y1="386.60" x2="365.75" y2="388.40" stroke="#231f20" stroke-width="0.55"/>
<line x1="368.00" y1="386.60" x2="368.00" y2="388.40" stroke="#231f20" stroke-width="0.55"/>
<line x1="369.90" y1="386.60" x2="369.90" y2="388.40" stroke="#231f20" stroke-width="0.55"/>
<line x1="371.55" y1="386.60" x2="371.55" y2="388.40" stroke="#231f20" stroke-width="0.55"/>
<line x1="373.00" y1="386.60" x2="373.00" y2="388.40" stroke="#231f20" stroke-width="0.55"/>
<line x1="374.30" y1="386.60" x2="374.30" y2="389.80" stroke="#231f20" stroke-width="0.8"/>
<line x1="382.85" y1="386.60" x2="382.85" y2="388.40" stroke="#231f20" stroke-width="0.55"/>
<line x1="387.85" y1="386.60" x2="387.85" y2="388.40" stroke="#231f20" stroke-width="0.55"/>
<line x1="391.40" y1="386.60" x2="391.40" y2="388.40" stroke="#231f20" stroke-width="0.55"/>
<line x1="394.15" y1="386.60" x2="394.15" y2="388.40" stroke="#231f20" stroke-width="0.55"/>
<line x1="396.40" y1="386.60" x2="396.40" y2="388.40" stroke="#231f20" stroke-width="0.55"/>
<line x1="398.30" y1="386.60" x2="398.30" y2="388.40" stroke="#231f20" stroke-width="0.55"/>
<text x="317.50" y="398.52" font-size="5.9" fill="#222" stroke="#222" stroke-width="0.12" text-anchor="middle">0.1</text>
<text x="345.90" y="398.52" font-size="5.9" fill="#222" stroke="#222" stroke-width="0.12" text-anchor="middle">1</text>
<text x="374.30" y="398.52" font-size="5.9" fill="#222" stroke="#222" stroke-width="0.12" text-anchor="middle">10</text>
<text x="309.00" y="329.32" font-size="5.9" fill="#222" stroke="#222" stroke-width="0.12" text-anchor="middle">10</text>
<text x="311.00" y="381.52" font-size="5.9" fill="#222" stroke="#222" stroke-width="0.12" text-anchor="middle">1</text>
<line x1="428.60" y1="300.50" x2="428.60" y2="387.00" stroke="#231f20" stroke-width="1.1"/>
<line x1="428.10" y1="386.60" x2="509.60" y2="386.60" stroke="#231f20" stroke-width="1.1"/>
<line x1="425.40" y1="379.20" x2="428.60" y2="379.20" stroke="#231f20" stroke-width="0.8"/>
<line x1="426.80" y1="363.49" x2="428.60" y2="363.49" stroke="#231f20" stroke-width="0.55"/>
<line x1="426.80" y1="354.29" x2="428.60" y2="354.29" stroke="#231f20" stroke-width="0.55"/>
<line x1="426.80" y1="347.77" x2="428.60" y2="347.77" stroke="#231f20" stroke-width="0.55"/>
<line x1="426.80" y1="342.71" x2="428.60" y2="342.71" stroke="#231f20" stroke-width="0.55"/>
<line x1="426.80" y1="338.58" x2="428.60" y2="338.58" stroke="#231f20" stroke-width="0.55"/>
<line x1="426.80" y1="335.09" x2="428.60" y2="335.09" stroke="#231f20" stroke-width="0.55"/>
<line x1="426.80" y1="332.06" x2="428.60" y2="332.06" stroke="#231f20" stroke-width="0.55"/>
<line x1="426.80" y1="329.39" x2="428.60" y2="329.39" stroke="#231f20" stroke-width="0.55"/>
<line x1="425.40" y1="327.00" x2="428.60" y2="327.00" stroke="#231f20" stroke-width="0.8"/>
<line x1="426.80" y1="311.29" x2="428.60" y2="311.29" stroke="#231f20" stroke-width="0.55"/>
<line x1="426.80" y1="302.09" x2="428.60" y2="302.09" stroke="#231f20" stroke-width="0.55"/>
<line x1="426.80" y1="384.26" x2="428.60" y2="384.26" stroke="#231f20" stroke-width="0.55"/>
<line x1="426.80" y1="381.59" x2="428.60" y2="381.59" stroke="#231f20" stroke-width="0.55"/>
<line x1="428.60" y1="386.60" x2="428.60" y2="389.80" stroke="#231f20" stroke-width="0.8"/>
<line x1="437.15" y1="386.60" x2="437.15" y2="388.40" stroke="#231f20" stroke-width="0.55"/>
<line x1="442.15" y1="386.60" x2="442.15" y2="388.40" stroke="#231f20" stroke-width="0.55"/>
<line x1="445.70" y1="386.60" x2="445.70" y2="388.40" stroke="#231f20" stroke-width="0.55"/>
<line x1="448.45" y1="386.60" x2="448.45" y2="388.40" stroke="#231f20" stroke-width="0.55"/>
<line x1="450.70" y1="386.60" x2="450.70" y2="388.40" stroke="#231f20" stroke-width="0.55"/>
<line x1="452.60" y1="386.60" x2="452.60" y2="388.40" stroke="#231f20" stroke-width="0.55"/>
<line x1="454.25" y1="386.60" x2="454.25" y2="388.40" stroke="#231f20" stroke-width="0.55"/>
<line x1="455.70" y1="386.60" x2="455.70" y2="388.40" stroke="#231f20" stroke-width="0.55"/>
<line x1="457.00" y1="386.60" x2="457.00" y2="389.80" stroke="#231f20" stroke-width="0.8"/>
<line x1="465.55" y1="386.60" x2="465.55" y2="388.40" stroke="#231f20" stroke-width="0.55"/>
<line x1="470.55" y1="386.60" x2="470.55" y2="388.40" stroke="#231f20" stroke-width="0.55"/>
<line x1="474.10" y1="386.60" x2="474.10" y2="388.40" stroke="#231f20" stroke-width="0.55"/>
<line x1="476.85" y1="386.60" x2="476.85" y2="388.40" stroke="#231f20" stroke-width="0.55"/>
<line x1="479.10" y1="386.60" x2="479.10" y2="388.40" stroke="#231f20" stroke-width="0.55"/>
<line x1="481.00" y1="386.60" x2="481.00" y2="388.40" stroke="#231f20" stroke-width="0.55"/>
<line x1="482.65" y1="386.60" x2="482.65" y2="388.40" stroke="#231f20" stroke-width="0.55"/>
<line x1="484.10" y1="386.60" x2="484.10" y2="388.40" stroke="#231f20" stroke-width="0.55"/>
<line x1="485.40" y1="386.60" x2="485.40" y2="389.80" stroke="#231f20" stroke-width="0.8"/>
<line x1="493.95" y1="386.60" x2="493.95" y2="388.40" stroke="#231f20" stroke-width="0.55"/>
<line x1="498.95" y1="386.60" x2="498.95" y2="388.40" stroke="#231f20" stroke-width="0.55"/>
<line x1="502.50" y1="386.60" x2="502.50" y2="388.40" stroke="#231f20" stroke-width="0.55"/>
<line x1="505.25" y1="386.60" x2="505.25" y2="388.40" stroke="#231f20" stroke-width="0.55"/>
<line x1="507.50" y1="386.60" x2="507.50" y2="388.40" stroke="#231f20" stroke-width="0.55"/>
<line x1="509.40" y1="386.60" x2="509.40" y2="388.40" stroke="#231f20" stroke-width="0.55"/>
<text x="428.60" y="398.52" font-size="5.9" fill="#222" stroke="#222" stroke-width="0.12" text-anchor="middle">0.1</text>
<text x="457.00" y="398.52" font-size="5.9" fill="#222" stroke="#222" stroke-width="0.12" text-anchor="middle">1</text>
<text x="485.40" y="398.52" font-size="5.9" fill="#222" stroke="#222" stroke-width="0.12" text-anchor="middle">10</text>
<text x="420.10" y="329.12" font-size="5.9" fill="#222" stroke="#222" stroke-width="0.12" text-anchor="middle">10</text>
<text x="422.10" y="381.32" font-size="5.9" fill="#222" stroke="#222" stroke-width="0.12" text-anchor="middle">1</text>
<text transform="translate(296.20,371.00) rotate(-90)" font-size="6.8" stroke-width="0.25" fill="#e0368a" stroke="#e0368a" textLength="11.5" lengthAdjust="spacingAndGlyphs">IC50</text>
<text transform="translate(298.40,359.30) rotate(-90)" font-size="4.8" stroke-width="0.25" fill="#e0368a" stroke="#e0368a" textLength="6.7" lengthAdjust="spacingAndGlyphs">TASR</text>
<text transform="translate(296.20,352.60) rotate(-90)" font-size="6.8" stroke-width="0.25" fill="#231f20" stroke="#231f20" textLength="18.0" lengthAdjust="spacingAndGlyphs">/IC50</text>
<text transform="translate(298.40,334.40) rotate(-90)" font-size="4.8" stroke-width="0.25" fill="#231f20" stroke="#231f20" textLength="16.5" lengthAdjust="spacingAndGlyphs">No Cloak</text>
<text transform="translate(408.00,371.00) rotate(-90)" font-size="6.8" stroke-width="0.25" fill="#4cb848" stroke="#4cb848" textLength="11.8" lengthAdjust="spacingAndGlyphs">IC50</text>
<text transform="translate(410.20,359.00) rotate(-90)" font-size="4.8" stroke-width="0.25" fill="#4cb848" stroke="#4cb848" textLength="9.6" lengthAdjust="spacingAndGlyphs">HLA-E</text>
<text transform="translate(408.00,349.20) rotate(-90)" font-size="6.8" stroke-width="0.25" fill="#231f20" stroke="#231f20" textLength="17.8" lengthAdjust="spacingAndGlyphs">/IC50</text>
<text transform="translate(410.20,331.20) rotate(-90)" font-size="4.8" stroke-width="0.25" fill="#231f20" stroke="#231f20" textLength="15.5" lengthAdjust="spacingAndGlyphs">No Cloak</text>
<text x="319.4" y="377.4" font-size="6.3" fill="#222"><tspan font-style="italic">P</tspan> = n.s.</text>
<text x="319.4" y="384.1" font-size="6.3" fill="#222" textLength="50.8" lengthAdjust="spacingAndGlyphs">Spearman <tspan font-style="italic">r</tspan> = 0.13</text>
<text x="432.0" y="377.2" font-size="6.1" fill="#222"><tspan font-style="italic">P</tspan> &lt; .0001</text>
<text x="432.0" y="384.3" font-size="6.1" fill="#222" textLength="52.4" lengthAdjust="spacingAndGlyphs">Spearman <tspan font-style="italic">r</tspan> = −0.63</text>
<text x="404.30" y="410.00" font-size="7.4" fill="#1a1a1a" stroke="#1a1a1a" stroke-width="0.2" text-anchor="middle" font-weight="bold" textLength="97" lengthAdjust="spacingAndGlyphs">Adaptive NK frequency (% of NK cells)</text>
<path d="M319.50,314.55 L321.80,317.10 L317.20,317.10 ZM330.50,310.65 L332.80,313.20 L328.20,313.20 ZM332.00,313.65 L334.30,316.20 L329.70,316.20 ZM324.10,329.55 L326.40,332.10 L321.80,332.10 ZM329.30,335.65 L331.60,338.20 L327.00,338.20 ZM330.50,343.15 L332.80,345.70 L328.20,345.70 ZM334.30,336.35 L336.60,338.90 L332.00,338.90 ZM337.70,335.05 L340.00,337.60 L335.40,337.60 ZM341.80,329.55 L344.10,332.10 L339.50,332.10 ZM341.80,333.45 L344.10,336.00 L339.50,336.00 ZM345.70,353.15 L348.00,355.70 L343.40,355.70 ZM351.40,316.35 L353.70,318.90 L349.10,318.90 ZM350.20,322.65 L352.50,325.20 L347.90,325.20 ZM351.80,321.35 L354.10,323.90 L349.50,323.90 ZM348.60,325.45 L350.90,328.00 L346.30,328.00 ZM351.40,325.45 L353.70,328.00 L349.10,328.00 ZM350.20,327.45 L352.50,330.00 L347.90,330.00 ZM352.80,327.95 L355.10,330.50 L350.50,330.50 ZM357.00,310.05 L359.30,312.60 L354.70,312.60 ZM355.90,320.45 L358.20,323.00 L353.60,323.00 ZM361.60,321.35 L363.90,323.90 L359.30,323.90 ZM350.20,340.25 L352.50,342.80 L347.90,342.80 ZM352.50,337.95 L354.80,340.50 L350.20,340.50 ZM348.60,341.35 L350.90,343.90 L346.30,343.90 ZM351.40,350.45 L353.70,353.00 L349.10,353.00 ZM355.90,348.65 L358.20,351.20 L353.60,351.20 ZM357.00,348.65 L359.30,351.20 L354.70,351.20 ZM357.70,332.75 L360.00,335.30 L355.40,335.30 ZM359.30,333.45 L361.60,336.00 L357.00,336.00 ZM361.60,334.55 L363.90,337.10 L359.30,337.10 ZM366.80,334.55 L369.10,337.10 L364.50,337.10 ZM372.30,302.25 L374.60,304.80 L370.00,304.80 ZM370.70,317.55 L373.00,320.10 L368.40,320.10 ZM374.50,345.45 L376.80,348.00 L372.20,348.00 ZM378.20,352.25 L380.50,354.80 L375.90,354.80 ZM362.30,369.75 L364.60,372.30 L360.00,372.30 ZM380.90,319.75 L383.20,322.30 L378.60,322.30 ZM382.70,322.05 L385.00,324.60 L380.40,324.60 ZM383.60,318.65 L385.90,321.20 L381.30,321.20 ZM386.60,315.25 L388.90,317.80 L384.30,317.80 ZM390.70,316.35 L393.00,318.90 L388.40,318.90 ZM383.60,329.55 L385.90,332.10 L381.30,332.10 ZM394.50,328.15 L396.80,330.70 L392.20,330.70 Z" fill="#fff" stroke="#e0368a" stroke-width="1.0"/>
<line x1="320.00" y1="333.00" x2="395.00" y2="328.50" stroke="#111" stroke-width="1.15" stroke-dasharray="2.4,1.6"/>
<path d="M430.50,325.85 L432.80,323.30 L428.20,323.30 ZM435.10,337.25 L437.40,334.70 L432.80,334.70 ZM441.90,336.85 L444.20,334.30 L439.60,334.30 ZM443.70,338.35 L446.00,335.80 L441.40,335.80 ZM441.50,344.05 L443.80,341.50 L439.20,341.50 ZM440.10,352.05 L442.40,349.50 L437.80,349.50 ZM448.30,323.15 L450.60,320.60 L446.00,320.60 ZM452.80,332.25 L455.10,329.70 L450.50,329.70 ZM453.30,336.15 L455.60,333.60 L451.00,333.60 ZM459.60,332.25 L461.90,329.70 L457.30,329.70 ZM461.90,311.85 L464.20,309.30 L459.60,309.30 ZM468.00,316.35 L470.30,313.80 L465.70,313.80 ZM461.20,340.65 L463.50,338.10 L458.90,338.10 ZM459.60,344.55 L461.90,342.00 L457.30,342.00 ZM462.40,346.85 L464.70,344.30 L460.10,344.30 ZM464.60,344.55 L466.90,342.00 L462.30,342.00 ZM460.10,350.85 L462.40,348.30 L457.80,348.30 ZM461.90,352.05 L464.20,349.50 L459.60,349.50 ZM463.50,349.05 L465.80,346.50 L461.20,346.50 ZM465.80,349.75 L468.10,347.20 L463.50,347.20 ZM468.00,346.85 L470.30,344.30 L465.70,344.30 ZM470.30,344.55 L472.60,342.00 L468.00,342.00 ZM472.60,334.55 L474.90,332.00 L470.30,332.00 ZM467.00,355.85 L469.30,353.30 L464.70,353.30 ZM468.00,357.75 L470.30,355.20 L465.70,355.20 ZM472.60,354.95 L474.90,352.40 L470.30,352.40 ZM477.80,354.35 L480.10,351.80 L475.50,351.80 ZM456.20,363.35 L458.50,360.80 L453.90,360.80 ZM462.40,366.85 L464.70,364.30 L460.10,364.30 ZM463.50,368.65 L465.80,366.10 L461.20,366.10 ZM481.70,363.35 L484.00,360.80 L479.40,360.80 ZM484.60,364.05 L486.90,361.50 L482.30,361.50 ZM482.80,355.85 L485.10,353.30 L480.50,353.30 ZM491.90,361.85 L494.20,359.30 L489.60,359.30 ZM493.70,345.25 L496.00,342.70 L491.40,342.70 ZM493.70,351.35 L496.00,348.80 L491.40,348.80 ZM497.60,358.85 L499.90,356.30 L495.30,356.30 ZM472.60,374.75 L474.90,372.20 L470.30,372.20 ZM493.70,373.65 L496.00,371.10 L491.40,371.10 ZM505.50,371.35 L507.80,368.80 L503.20,368.80 ZM505.50,374.05 L507.80,371.50 L503.20,371.50 ZM502.10,379.95 L504.40,377.40 L499.80,377.40 ZM488.50,384.95 L490.80,382.40 L486.20,382.40 Z" fill="#fff" stroke="#4cb848" stroke-width="1.0"/>
<line x1="428.70" y1="328.60" x2="506.50" y2="371.50" stroke="#111" stroke-width="1.15" stroke-dasharray="2.4,1.6"/>
</g>
<rect x="0.5" y="0.5" width="519" height="417" fill="none" stroke="#5e5e5e" stroke-width="1"/>
</svg>
</body></html>
